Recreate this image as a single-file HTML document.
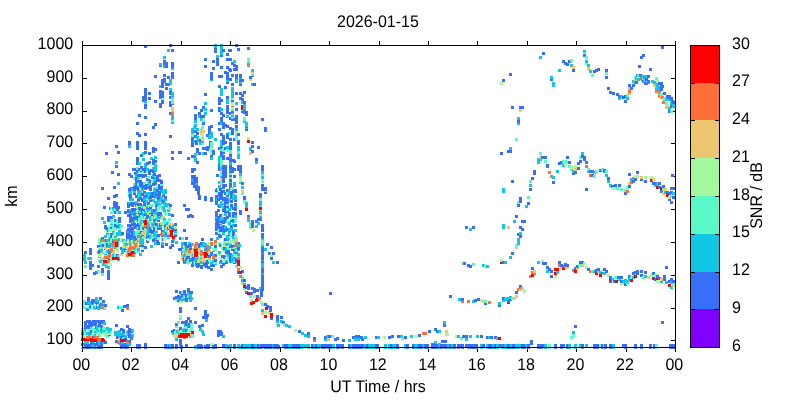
<!DOCTYPE html>
<html><head><meta charset="utf-8"><title>plot</title>
<style>
html,body{margin:0;padding:0;background:#fff;overflow:hidden;}
svg{display:block;will-change:transform;}
.c0{fill:#8000ff}.c1{fill:#376ff9}.c2{fill:#12c7e6}.c3{fill:#5bf9c7}.c4{fill:#a4f99f}.c5{fill:#edc76f}.c6{fill:#ff6f39}.c7{fill:#ff0000}
text{font-family:"Liberation Sans",sans-serif;font-size:16px;fill:#000;}
</style></head>
<body>
<svg width="800" height="400" viewBox="0 0 800 400" shape-rendering="crispEdges">
<rect width="800" height="400" fill="#fff"/>
<rect x="82" y="41" width="1" height="4" fill="#000"/>
<rect x="82" y="348" width="1" height="4" fill="#000"/>
<rect x="131" y="41" width="1" height="4" fill="#000"/>
<rect x="131" y="348" width="1" height="4" fill="#000"/>
<rect x="181" y="41" width="1" height="4" fill="#000"/>
<rect x="181" y="348" width="1" height="4" fill="#000"/>
<rect x="230" y="41" width="1" height="4" fill="#000"/>
<rect x="230" y="348" width="1" height="4" fill="#000"/>
<rect x="280" y="41" width="1" height="4" fill="#000"/>
<rect x="280" y="348" width="1" height="4" fill="#000"/>
<rect x="329" y="41" width="1" height="4" fill="#000"/>
<rect x="329" y="348" width="1" height="4" fill="#000"/>
<rect x="379" y="41" width="1" height="4" fill="#000"/>
<rect x="379" y="348" width="1" height="4" fill="#000"/>
<rect x="428" y="41" width="1" height="4" fill="#000"/>
<rect x="428" y="348" width="1" height="4" fill="#000"/>
<rect x="477" y="41" width="1" height="4" fill="#000"/>
<rect x="477" y="348" width="1" height="4" fill="#000"/>
<rect x="527" y="41" width="1" height="4" fill="#000"/>
<rect x="527" y="348" width="1" height="4" fill="#000"/>
<rect x="576" y="41" width="1" height="4" fill="#000"/>
<rect x="576" y="348" width="1" height="4" fill="#000"/>
<rect x="626" y="41" width="1" height="4" fill="#000"/>
<rect x="626" y="348" width="1" height="4" fill="#000"/>
<rect x="675" y="41" width="1" height="4" fill="#000"/>
<rect x="675" y="348" width="1" height="4" fill="#000"/>
<rect x="83" y="340" width="4" height="1" fill="#000"/>
<rect x="671" y="340" width="4" height="1" fill="#000"/>
<rect x="83" y="308" width="4" height="1" fill="#000"/>
<rect x="671" y="308" width="4" height="1" fill="#000"/>
<rect x="83" y="275" width="4" height="1" fill="#000"/>
<rect x="671" y="275" width="4" height="1" fill="#000"/>
<rect x="83" y="242" width="4" height="1" fill="#000"/>
<rect x="671" y="242" width="4" height="1" fill="#000"/>
<rect x="83" y="209" width="4" height="1" fill="#000"/>
<rect x="671" y="209" width="4" height="1" fill="#000"/>
<rect x="83" y="176" width="4" height="1" fill="#000"/>
<rect x="671" y="176" width="4" height="1" fill="#000"/>
<rect x="83" y="143" width="4" height="1" fill="#000"/>
<rect x="671" y="143" width="4" height="1" fill="#000"/>
<rect x="83" y="111" width="4" height="1" fill="#000"/>
<rect x="671" y="111" width="4" height="1" fill="#000"/>
<rect x="83" y="78" width="4" height="1" fill="#000"/>
<rect x="671" y="78" width="4" height="1" fill="#000"/>
<path class="c1" d="M81 343h3v3h-3z"/>
<path class="c3" d="M81 335h3v3h-3z"/>
<path class="c1" d="M81 332h3v3h-3z"/>
<path class="c2" d="M81 331h3v3h-3z"/>
<path class="c3" d="M81 328h3v3h-3z"/>
<path class="c2" d="M82 344h3v3h-3zM82 344h3v3h-3z"/>
<path class="c5" d="M82 336h3v3h-3z"/>
<path class="c3" d="M83 306h3v3h-3zM83 302h3v3h-3zM83 300h3v3h-3z"/>
<path class="c2" d="M83 258h3v3h-3zM83 256h3v3h-3zM83 254h3v3h-3z"/>
<path class="c1" d="M84 343h3v3h-3z"/>
<path class="c2" d="M84 341h3v3h-3z"/>
<path class="c5" d="M84 336h3v3h-3z"/>
<path class="c4" d="M84 335h3v3h-3z"/>
<path class="c3" d="M84 332h3v3h-3zM84 330h3v3h-3z"/>
<path class="c2" d="M84 328h3v3h-3z"/>
<path class="c1" d="M84 326h3v3h-3zM84 325h3v3h-3zM84 324h3v3h-3zM84 321h3v3h-3z"/>
<path class="c3" d="M84 265h3v3h-3z"/>
<path class="c2" d="M84 261h3v3h-3z"/>
<path class="c1" d="M84 251h3v3h-3zM85 344h3v3h-3zM85 302h3v3h-3zM86 344h3v3h-3z"/>
<path class="c2" d="M86 341h3v3h-3zM86 332h3v3h-3z"/>
<path class="c4" d="M86 329h3v3h-3z"/>
<path class="c1" d="M86 326h3v3h-3zM86 325h3v3h-3zM86 320h3v3h-3zM86 308h3v3h-3zM87 344h3v3h-3z"/>
<path class="c3" d="M87 306h3v3h-3z"/>
<path class="c1" d="M87 302h3v3h-3z"/>
<path class="c2" d="M87 301h3v3h-3z"/>
<path class="c1" d="M87 299h3v3h-3zM87 297h3v3h-3z"/>
<path class="c2" d="M87 257h3v3h-3z"/>
<path class="c1" d="M88 344h3v3h-3z"/>
<path class="c2" d="M88 334h3v3h-3zM88 332h3v3h-3zM88 331h3v3h-3z"/>
<path class="c3" d="M88 329h3v3h-3zM88 327h3v3h-3z"/>
<path class="c1" d="M88 326h3v3h-3zM88 324h3v3h-3zM88 323h3v3h-3zM88 320h3v3h-3z"/>
<path class="c2" d="M89 306h3v3h-3z"/>
<path class="c1" d="M89 305h3v3h-3z"/>
<path class="c2" d="M89 303h3v3h-3zM89 301h3v3h-3z"/>
<path class="c1" d="M89 267h3v3h-3zM89 264h3v3h-3zM89 261h3v3h-3z"/>
<path class="c2" d="M89 257h3v3h-3z"/>
<path class="c1" d="M89 252h3v3h-3zM89 250h3v3h-3zM89 248h3v3h-3zM90 343h3v3h-3zM90 341h3v3h-3z"/>
<path class="c5" d="M90 336h3v3h-3z"/>
<path class="c3" d="M90 334h3v3h-3z"/>
<path class="c2" d="M90 332h3v3h-3z"/>
<path class="c1" d="M90 330h3v3h-3z"/>
<path class="c3" d="M90 327h3v3h-3z"/>
<path class="c1" d="M90 324h3v3h-3zM90 321h3v3h-3z"/>
<path class="c2" d="M91 344h3v3h-3z"/>
<path class="c4" d="M91 307h3v3h-3zM91 304h3v3h-3z"/>
<path class="c2" d="M91 302h3v3h-3z"/>
<path class="c1" d="M91 301h3v3h-3zM91 300h3v3h-3zM91 299h3v3h-3zM91 264h3v3h-3z"/>
<path class="c2" d="M92 344h3v3h-3z"/>
<path class="c1" d="M92 342h3v3h-3z"/>
<path class="c2" d="M92 340h3v3h-3z"/>
<path class="c5" d="M92 336h3v3h-3z"/>
<path class="c1" d="M92 335h3v3h-3z"/>
<path class="c3" d="M92 333h3v3h-3z"/>
<path class="c4" d="M92 332h3v3h-3z"/>
<path class="c5" d="M92 329h3v3h-3z"/>
<path class="c3" d="M92 328h3v3h-3z"/>
<path class="c1" d="M92 323h3v3h-3zM92 320h3v3h-3z"/>
<path class="c2" d="M93 344h3v3h-3z"/>
<path class="c1" d="M93 320h3v3h-3z"/>
<path class="c5" d="M93 307h3v3h-3z"/>
<path class="c2" d="M93 306h3v3h-3z"/>
<path class="c1" d="M93 300h3v3h-3zM93 299h3v3h-3zM93 272h3v3h-3zM94 343h3v3h-3z"/>
<path class="c2" d="M94 334h3v3h-3z"/>
<path class="c3" d="M94 331h3v3h-3z"/>
<path class="c2" d="M94 330h3v3h-3z"/>
<path class="c3" d="M94 328h3v3h-3z"/>
<path class="c1" d="M94 322h3v3h-3zM95 326h3v3h-3zM95 325h3v3h-3z"/>
<path class="c3" d="M95 305h3v3h-3z"/>
<path class="c1" d="M95 301h3v3h-3zM95 301h3v3h-3z"/>
<path class="c2" d="M95 299h3v3h-3zM95 297h3v3h-3z"/>
<path class="c1" d="M95 271h3v3h-3zM96 342h3v3h-3zM96 341h3v3h-3z"/>
<path class="c5" d="M96 334h3v3h-3z"/>
<path class="c4" d="M96 333h3v3h-3z"/>
<path class="c5" d="M96 329h3v3h-3z"/>
<path class="c2" d="M96 328h3v3h-3zM96 325h3v3h-3zM96 320h3v3h-3z"/>
<path class="c1" d="M96 320h3v3h-3zM96 306h3v3h-3zM96 302h3v3h-3zM97 344h3v3h-3z"/>
<path class="c2" d="M97 307h3v3h-3zM97 304h3v3h-3z"/>
<path class="c4" d="M97 303h3v3h-3z"/>
<path class="c1" d="M97 301h3v3h-3z"/>
<path class="c2" d="M97 300h3v3h-3z"/>
<path class="c3" d="M97 270h3v3h-3z"/>
<path class="c1" d="M97 265h3v3h-3z"/>
<path class="c2" d="M97 251h3v3h-3z"/>
<path class="c1" d="M97 245h3v3h-3zM98 343h3v3h-3z"/>
<path class="c2" d="M98 342h3v3h-3z"/>
<path class="c3" d="M98 334h3v3h-3zM98 330h3v3h-3z"/>
<path class="c2" d="M98 329h3v3h-3z"/>
<path class="c3" d="M98 328h3v3h-3z"/>
<path class="c1" d="M98 324h3v3h-3zM98 323h3v3h-3z"/>
<path class="c4" d="M98 259h3v3h-3z"/>
<path class="c2" d="M98 255h3v3h-3z"/>
<path class="c4" d="M98 254h3v3h-3z"/>
<path class="c2" d="M98 251h3v3h-3z"/>
<path class="c1" d="M98 250h3v3h-3z"/>
<path class="c5" d="M98 247h3v3h-3z"/>
<path class="c3" d="M98 241h3v3h-3zM98 240h3v3h-3z"/>
<path class="c4" d="M98 238h3v3h-3z"/>
<path class="c1" d="M99 320h3v3h-3zM99 304h3v3h-3z"/>
<path class="c4" d="M99 301h3v3h-3z"/>
<path class="c1" d="M99 297h3v3h-3z"/>
<path class="c2" d="M99 260h3v3h-3z"/>
<path class="c1" d="M100 344h3v3h-3zM100 341h3v3h-3z"/>
<path class="c2" d="M100 329h3v3h-3z"/>
<path class="c1" d="M100 325h3v3h-3zM100 321h3v3h-3z"/>
<path class="c2" d="M100 306h3v3h-3z"/>
<path class="c1" d="M100 303h3v3h-3z"/>
<path class="c2" d="M100 258h3v3h-3z"/>
<path class="c5" d="M100 257h3v3h-3z"/>
<path class="c4" d="M100 252h3v3h-3z"/>
<path class="c6" d="M100 250h3v3h-3z"/>
<path class="c2" d="M100 249h3v3h-3z"/>
<path class="c3" d="M100 246h3v3h-3z"/>
<path class="c2" d="M100 244h3v3h-3z"/>
<path class="c3" d="M100 241h3v3h-3z"/>
<path class="c4" d="M100 239h3v3h-3z"/>
<path class="c2" d="M100 239h3v3h-3zM101 331h3v3h-3z"/>
<path class="c1" d="M101 327h3v3h-3zM101 321h3v3h-3zM101 306h3v3h-3z"/>
<path class="c2" d="M101 304h3v3h-3z"/>
<path class="c3" d="M101 273h3v3h-3z"/>
<path class="c1" d="M101 270h3v3h-3zM101 268h3v3h-3zM101 237h3v3h-3z"/>
<path class="c2" d="M101 217h3v3h-3z"/>
<path class="c1" d="M101 187h3v3h-3z"/>
<path class="c2" d="M102 341h3v3h-3z"/>
<path class="c3" d="M102 331h3v3h-3z"/>
<path class="c2" d="M102 329h3v3h-3z"/>
<path class="c1" d="M102 327h3v3h-3z"/>
<path class="c3" d="M102 327h3v3h-3z"/>
<path class="c1" d="M102 320h3v3h-3z"/>
<path class="c2" d="M102 305h3v3h-3z"/>
<path class="c1" d="M102 303h3v3h-3z"/>
<path class="c3" d="M102 301h3v3h-3z"/>
<path class="c1" d="M102 300h3v3h-3z"/>
<path class="c2" d="M102 263h3v3h-3zM102 263h3v3h-3z"/>
<path class="c3" d="M102 257h3v3h-3zM102 251h3v3h-3zM102 245h3v3h-3z"/>
<path class="c1" d="M102 244h3v3h-3z"/>
<path class="c4" d="M102 240h3v3h-3z"/>
<path class="c6" d="M102 239h3v3h-3z"/>
<path class="c1" d="M103 322h3v3h-3z"/>
<path class="c2" d="M103 322h3v3h-3z"/>
<path class="c3" d="M103 307h3v3h-3z"/>
<path class="c2" d="M103 304h3v3h-3zM103 221h3v3h-3z"/>
<path class="c1" d="M103 206h3v3h-3zM104 341h3v3h-3z"/>
<path class="c4" d="M104 334h3v3h-3z"/>
<path class="c2" d="M104 329h3v3h-3z"/>
<path class="c3" d="M104 327h3v3h-3z"/>
<path class="c1" d="M104 304h3v3h-3z"/>
<path class="c5" d="M104 254h3v3h-3z"/>
<path class="c2" d="M104 252h3v3h-3z"/>
<path class="c4" d="M104 251h3v3h-3z"/>
<path class="c1" d="M104 247h3v3h-3z"/>
<path class="c5" d="M104 246h3v3h-3z"/>
<path class="c3" d="M104 243h3v3h-3zM104 242h3v3h-3z"/>
<path class="c2" d="M104 235h3v3h-3z"/>
<path class="c1" d="M104 226h3v3h-3zM104 225h3v3h-3z"/>
<path class="c5" d="M105 331h3v3h-3z"/>
<path class="c2" d="M105 265h3v3h-3z"/>
<path class="c3" d="M105 262h3v3h-3z"/>
<path class="c1" d="M105 256h3v3h-3z"/>
<path class="c4" d="M105 249h3v3h-3z"/>
<path class="c1" d="M105 239h3v3h-3zM105 227h3v3h-3zM105 152h3v3h-3z"/>
<path class="c3" d="M106 335h3v3h-3z"/>
<path class="c4" d="M106 331h3v3h-3z"/>
<path class="c3" d="M106 331h3v3h-3zM106 329h3v3h-3z"/>
<path class="c2" d="M106 327h3v3h-3zM106 250h3v3h-3z"/>
<path class="c3" d="M106 245h3v3h-3z"/>
<path class="c2" d="M106 245h3v3h-3z"/>
<path class="c1" d="M106 243h3v3h-3z"/>
<path class="c2" d="M106 239h3v3h-3zM106 232h3v3h-3z"/>
<path class="c4" d="M106 230h3v3h-3z"/>
<path class="c1" d="M107 277h3v3h-3zM107 275h3v3h-3zM107 273h3v3h-3zM107 270h3v3h-3z"/>
<path class="c2" d="M107 266h3v3h-3zM107 255h3v3h-3z"/>
<path class="c1" d="M107 229h3v3h-3zM107 219h3v3h-3zM107 218h3v3h-3zM107 216h3v3h-3zM107 197h3v3h-3zM108 333h3v3h-3z"/>
<path class="c4" d="M108 332h3v3h-3z"/>
<path class="c2" d="M108 330h3v3h-3z"/>
<path class="c4" d="M108 258h3v3h-3z"/>
<path class="c1" d="M108 257h3v3h-3z"/>
<path class="c6" d="M108 256h3v3h-3z"/>
<path class="c5" d="M108 252h3v3h-3z"/>
<path class="c1" d="M108 251h3v3h-3zM108 249h3v3h-3z"/>
<path class="c4" d="M108 242h3v3h-3z"/>
<path class="c3" d="M108 236h3v3h-3zM108 229h3v3h-3zM108 227h3v3h-3z"/>
<path class="c4" d="M108 225h3v3h-3z"/>
<path class="c3" d="M109 329h3v3h-3z"/>
<path class="c2" d="M109 328h3v3h-3z"/>
<path class="c4" d="M109 263h3v3h-3z"/>
<path class="c3" d="M109 254h3v3h-3z"/>
<path class="c2" d="M109 249h3v3h-3zM109 245h3v3h-3zM109 242h3v3h-3z"/>
<path class="c1" d="M109 238h3v3h-3zM109 207h3v3h-3z"/>
<path class="c3" d="M110 258h3v3h-3zM110 256h3v3h-3z"/>
<path class="c2" d="M110 250h3v3h-3z"/>
<path class="c5" d="M110 246h3v3h-3z"/>
<path class="c2" d="M110 245h3v3h-3zM110 242h3v3h-3z"/>
<path class="c3" d="M110 240h3v3h-3z"/>
<path class="c4" d="M110 238h3v3h-3z"/>
<path class="c3" d="M110 236h3v3h-3z"/>
<path class="c1" d="M110 235h3v3h-3zM110 233h3v3h-3zM110 226h3v3h-3z"/>
<path class="c3" d="M110 224h3v3h-3z"/>
<path class="c2" d="M110 222h3v3h-3z"/>
<path class="c3" d="M110 221h3v3h-3zM110 218h3v3h-3z"/>
<path class="c1" d="M110 216h3v3h-3z"/>
<path class="c3" d="M110 211h3v3h-3zM110 207h3v3h-3zM111 255h3v3h-3z"/>
<path class="c4" d="M111 247h3v3h-3z"/>
<path class="c1" d="M111 171h3v3h-3z"/>
<path class="c2" d="M112 254h3v3h-3z"/>
<path class="c3" d="M112 251h3v3h-3z"/>
<path class="c5" d="M112 250h3v3h-3z"/>
<path class="c2" d="M112 245h3v3h-3z"/>
<path class="c6" d="M112 242h3v3h-3z"/>
<path class="c1" d="M112 240h3v3h-3z"/>
<path class="c2" d="M112 238h3v3h-3z"/>
<path class="c3" d="M112 236h3v3h-3z"/>
<path class="c4" d="M112 235h3v3h-3z"/>
<path class="c2" d="M112 231h3v3h-3z"/>
<path class="c4" d="M112 228h3v3h-3z"/>
<path class="c3" d="M112 226h3v3h-3z"/>
<path class="c2" d="M112 215h3v3h-3z"/>
<path class="c3" d="M112 209h3v3h-3z"/>
<path class="c2" d="M112 207h3v3h-3z"/>
<path class="c4" d="M113 247h3v3h-3z"/>
<path class="c1" d="M113 205h3v3h-3zM113 203h3v3h-3zM113 201h3v3h-3zM113 195h3v3h-3zM113 186h3v3h-3z"/>
<path class="c2" d="M114 333h3v3h-3z"/>
<path class="c1" d="M114 331h3v3h-3z"/>
<path class="c2" d="M114 331h3v3h-3z"/>
<path class="c5" d="M114 257h3v3h-3z"/>
<path class="c3" d="M114 254h3v3h-3zM114 246h3v3h-3z"/>
<path class="c2" d="M114 246h3v3h-3z"/>
<path class="c1" d="M114 243h3v3h-3z"/>
<path class="c2" d="M114 241h3v3h-3zM114 238h3v3h-3z"/>
<path class="c4" d="M114 236h3v3h-3z"/>
<path class="c2" d="M114 235h3v3h-3z"/>
<path class="c3" d="M114 233h3v3h-3z"/>
<path class="c4" d="M114 232h3v3h-3z"/>
<path class="c3" d="M114 227h3v3h-3z"/>
<path class="c1" d="M114 224h3v3h-3zM114 222h3v3h-3z"/>
<path class="c3" d="M114 221h3v3h-3zM114 220h3v3h-3z"/>
<path class="c1" d="M114 219h3v3h-3zM114 211h3v3h-3z"/>
<path class="c3" d="M114 208h3v3h-3z"/>
<path class="c1" d="M115 340h3v3h-3zM115 324h3v3h-3z"/>
<path class="c4" d="M115 240h3v3h-3z"/>
<path class="c1" d="M115 206h3v3h-3zM115 204h3v3h-3zM115 202h3v3h-3zM115 194h3v3h-3zM115 165h3v3h-3z"/>
<path class="c2" d="M115 161h3v3h-3z"/>
<path class="c1" d="M115 145h3v3h-3zM116 336h3v3h-3zM116 335h3v3h-3z"/>
<path class="c2" d="M116 333h3v3h-3z"/>
<path class="c3" d="M116 331h3v3h-3z"/>
<path class="c2" d="M116 331h3v3h-3z"/>
<path class="c5" d="M116 257h3v3h-3z"/>
<path class="c1" d="M116 254h3v3h-3z"/>
<path class="c4" d="M116 249h3v3h-3zM116 246h3v3h-3z"/>
<path class="c1" d="M116 244h3v3h-3z"/>
<path class="c4" d="M116 243h3v3h-3z"/>
<path class="c2" d="M116 242h3v3h-3zM116 239h3v3h-3zM116 233h3v3h-3zM116 232h3v3h-3z"/>
<path class="c1" d="M116 225h3v3h-3z"/>
<path class="c3" d="M116 222h3v3h-3zM116 219h3v3h-3zM116 211h3v3h-3z"/>
<path class="c1" d="M116 208h3v3h-3z"/>
<path class="c2" d="M117 306h3v3h-3zM117 258h3v3h-3z"/>
<path class="c3" d="M117 255h3v3h-3z"/>
<path class="c1" d="M117 206h3v3h-3z"/>
<path class="c2" d="M117 182h3v3h-3z"/>
<path class="c1" d="M117 173h3v3h-3zM117 151h3v3h-3z"/>
<path class="c2" d="M118 338h3v3h-3z"/>
<path class="c5" d="M118 338h3v3h-3z"/>
<path class="c2" d="M118 335h3v3h-3zM118 335h3v3h-3zM118 332h3v3h-3zM118 330h3v3h-3zM118 238h3v3h-3zM118 233h3v3h-3zM118 230h3v3h-3z"/>
<path class="c3" d="M118 227h3v3h-3z"/>
<path class="c1" d="M118 225h3v3h-3z"/>
<path class="c2" d="M118 224h3v3h-3z"/>
<path class="c1" d="M118 220h3v3h-3zM118 218h3v3h-3zM118 217h3v3h-3z"/>
<path class="c2" d="M118 211h3v3h-3z"/>
<path class="c1" d="M119 342h3v3h-3z"/>
<path class="c3" d="M119 306h3v3h-3z"/>
<path class="c1" d="M120 344h3v3h-3zM120 337h3v3h-3zM120 336h3v3h-3zM120 334h3v3h-3z"/>
<path class="c2" d="M120 333h3v3h-3z"/>
<path class="c1" d="M120 328h3v3h-3z"/>
<path class="c5" d="M120 253h3v3h-3z"/>
<path class="c1" d="M120 247h3v3h-3z"/>
<path class="c5" d="M120 239h3v3h-3z"/>
<path class="c4" d="M120 238h3v3h-3z"/>
<path class="c2" d="M120 233h3v3h-3z"/>
<path class="c3" d="M120 225h3v3h-3z"/>
<path class="c2" d="M121 342h3v3h-3z"/>
<path class="c1" d="M121 309h3v3h-3z"/>
<path class="c3" d="M121 306h3v3h-3z"/>
<path class="c2" d="M121 251h3v3h-3zM121 250h3v3h-3zM121 249h3v3h-3z"/>
<path class="c4" d="M121 239h3v3h-3z"/>
<path class="c1" d="M121 232h3v3h-3zM122 344h3v3h-3z"/>
<path class="c3" d="M122 337h3v3h-3zM122 335h3v3h-3z"/>
<path class="c1" d="M122 334h3v3h-3z"/>
<path class="c2" d="M122 333h3v3h-3z"/>
<path class="c1" d="M122 330h3v3h-3zM122 329h3v3h-3z"/>
<path class="c2" d="M122 248h3v3h-3zM122 245h3v3h-3z"/>
<path class="c4" d="M122 245h3v3h-3z"/>
<path class="c5" d="M122 240h3v3h-3z"/>
<path class="c2" d="M122 239h3v3h-3z"/>
<path class="c5" d="M123 338h3v3h-3z"/>
<path class="c1" d="M123 305h3v3h-3z"/>
<path class="c2" d="M123 248h3v3h-3z"/>
<path class="c3" d="M123 243h3v3h-3zM123 241h3v3h-3z"/>
<path class="c1" d="M124 344h3v3h-3zM124 343h3v3h-3zM124 337h3v3h-3z"/>
<path class="c2" d="M124 335h3v3h-3z"/>
<path class="c1" d="M124 249h3v3h-3z"/>
<path class="c5" d="M124 245h3v3h-3zM124 244h3v3h-3z"/>
<path class="c2" d="M124 242h3v3h-3z"/>
<path class="c3" d="M124 240h3v3h-3z"/>
<path class="c1" d="M124 211h3v3h-3z"/>
<path class="c3" d="M125 250h3v3h-3z"/>
<path class="c2" d="M125 243h3v3h-3z"/>
<path class="c1" d="M126 344h3v3h-3z"/>
<path class="c2" d="M126 342h3v3h-3z"/>
<path class="c1" d="M126 340h3v3h-3z"/>
<path class="c2" d="M126 331h3v3h-3z"/>
<path class="c1" d="M126 325h3v3h-3zM126 304h3v3h-3zM126 238h3v3h-3zM126 236h3v3h-3zM126 234h3v3h-3zM126 232h3v3h-3zM126 230h3v3h-3z"/>
<path class="c2" d="M127 333h3v3h-3zM127 330h3v3h-3z"/>
<path class="c1" d="M127 253h3v3h-3z"/>
<path class="c2" d="M127 251h3v3h-3z"/>
<path class="c3" d="M127 247h3v3h-3z"/>
<path class="c4" d="M127 239h3v3h-3z"/>
<path class="c1" d="M127 235h3v3h-3zM127 233h3v3h-3z"/>
<path class="c2" d="M127 230h3v3h-3z"/>
<path class="c1" d="M127 228h3v3h-3zM127 224h3v3h-3zM127 214h3v3h-3zM127 210h3v3h-3zM127 209h3v3h-3zM127 205h3v3h-3zM127 204h3v3h-3zM127 202h3v3h-3z"/>
<path class="c2" d="M128 343h3v3h-3z"/>
<path class="c1" d="M128 340h3v3h-3zM128 335h3v3h-3zM128 332h3v3h-3zM128 331h3v3h-3zM128 329h3v3h-3zM128 328h3v3h-3z"/>
<path class="c5" d="M128 242h3v3h-3z"/>
<path class="c1" d="M128 203h3v3h-3z"/>
<path class="c2" d="M128 202h3v3h-3zM128 194h3v3h-3zM128 190h3v3h-3z"/>
<path class="c1" d="M128 188h3v3h-3zM128 173h3v3h-3z"/>
<path class="c2" d="M128 145h3v3h-3z"/>
<path class="c1" d="M128 142h3v3h-3zM128 141h3v3h-3zM129 329h3v3h-3z"/>
<path class="c3" d="M129 254h3v3h-3z"/>
<path class="c1" d="M129 252h3v3h-3z"/>
<path class="c4" d="M129 252h3v3h-3z"/>
<path class="c1" d="M129 248h3v3h-3z"/>
<path class="c2" d="M129 248h3v3h-3zM129 246h3v3h-3zM129 244h3v3h-3zM129 242h3v3h-3z"/>
<path class="c3" d="M129 240h3v3h-3z"/>
<path class="c2" d="M129 239h3v3h-3z"/>
<path class="c1" d="M129 237h3v3h-3zM129 236h3v3h-3zM129 234h3v3h-3zM129 234h3v3h-3zM129 230h3v3h-3zM129 228h3v3h-3zM129 226h3v3h-3zM129 224h3v3h-3zM129 220h3v3h-3zM129 219h3v3h-3zM129 217h3v3h-3zM129 217h3v3h-3zM129 215h3v3h-3zM129 213h3v3h-3zM129 212h3v3h-3z"/>
<path class="c2" d="M129 209h3v3h-3z"/>
<path class="c1" d="M129 203h3v3h-3z"/>
<path class="c2" d="M129 198h3v3h-3z"/>
<path class="c1" d="M129 196h3v3h-3zM129 193h3v3h-3z"/>
<path class="c2" d="M129 191h3v3h-3z"/>
<path class="c1" d="M130 337h3v3h-3zM130 335h3v3h-3z"/>
<path class="c3" d="M130 331h3v3h-3z"/>
<path class="c1" d="M130 330h3v3h-3zM130 187h3v3h-3zM130 175h3v3h-3z"/>
<path class="c2" d="M131 334h3v3h-3zM131 329h3v3h-3z"/>
<path class="c1" d="M131 254h3v3h-3zM131 251h3v3h-3z"/>
<path class="c3" d="M131 250h3v3h-3z"/>
<path class="c4" d="M131 244h3v3h-3zM131 240h3v3h-3z"/>
<path class="c1" d="M131 237h3v3h-3z"/>
<path class="c2" d="M131 236h3v3h-3z"/>
<path class="c1" d="M131 235h3v3h-3zM131 232h3v3h-3zM131 230h3v3h-3zM131 227h3v3h-3z"/>
<path class="c2" d="M131 223h3v3h-3z"/>
<path class="c1" d="M131 223h3v3h-3zM131 219h3v3h-3zM131 217h3v3h-3z"/>
<path class="c2" d="M131 212h3v3h-3z"/>
<path class="c1" d="M131 209h3v3h-3zM131 208h3v3h-3zM131 204h3v3h-3zM131 202h3v3h-3z"/>
<path class="c2" d="M131 198h3v3h-3zM131 188h3v3h-3z"/>
<path class="c5" d="M132 248h3v3h-3zM132 240h3v3h-3z"/>
<path class="c1" d="M132 168h3v3h-3zM133 251h3v3h-3z"/>
<path class="c2" d="M133 249h3v3h-3z"/>
<path class="c3" d="M133 248h3v3h-3z"/>
<path class="c2" d="M133 247h3v3h-3zM133 241h3v3h-3zM133 238h3v3h-3z"/>
<path class="c1" d="M133 236h3v3h-3zM133 234h3v3h-3z"/>
<path class="c2" d="M133 233h3v3h-3zM133 231h3v3h-3z"/>
<path class="c1" d="M133 224h3v3h-3zM133 223h3v3h-3zM133 221h3v3h-3zM133 216h3v3h-3zM133 215h3v3h-3zM133 213h3v3h-3zM133 209h3v3h-3zM133 202h3v3h-3zM133 192h3v3h-3z"/>
<path class="c2" d="M133 190h3v3h-3z"/>
<path class="c1" d="M133 188h3v3h-3zM133 188h3v3h-3zM133 185h3v3h-3z"/>
<path class="c3" d="M133 183h3v3h-3zM133 177h3v3h-3z"/>
<path class="c1" d="M134 236h3v3h-3z"/>
<path class="c2" d="M134 233h3v3h-3z"/>
<path class="c1" d="M134 226h3v3h-3zM134 224h3v3h-3z"/>
<path class="c2" d="M134 220h3v3h-3z"/>
<path class="c1" d="M134 217h3v3h-3z"/>
<path class="c2" d="M134 214h3v3h-3zM134 212h3v3h-3z"/>
<path class="c1" d="M134 212h3v3h-3z"/>
<path class="c2" d="M134 210h3v3h-3z"/>
<path class="c1" d="M134 208h3v3h-3zM134 172h3v3h-3zM134 168h3v3h-3zM134 168h3v3h-3z"/>
<path class="c3" d="M135 250h3v3h-3zM135 249h3v3h-3z"/>
<path class="c1" d="M135 242h3v3h-3z"/>
<path class="c2" d="M135 241h3v3h-3z"/>
<path class="c4" d="M135 240h3v3h-3z"/>
<path class="c1" d="M135 238h3v3h-3z"/>
<path class="c3" d="M135 233h3v3h-3zM135 231h3v3h-3z"/>
<path class="c4" d="M135 220h3v3h-3z"/>
<path class="c1" d="M135 216h3v3h-3zM135 204h3v3h-3zM135 202h3v3h-3z"/>
<path class="c2" d="M135 201h3v3h-3z"/>
<path class="c1" d="M135 195h3v3h-3zM135 187h3v3h-3zM135 185h3v3h-3zM135 184h3v3h-3zM135 182h3v3h-3zM135 179h3v3h-3zM135 178h3v3h-3zM135 176h3v3h-3z"/>
<path class="c2" d="M135 174h3v3h-3z"/>
<path class="c1" d="M136 344h3v3h-3z"/>
<path class="c5" d="M136 246h3v3h-3zM136 240h3v3h-3z"/>
<path class="c3" d="M136 235h3v3h-3z"/>
<path class="c2" d="M136 227h3v3h-3z"/>
<path class="c4" d="M136 212h3v3h-3z"/>
<path class="c2" d="M136 211h3v3h-3z"/>
<path class="c4" d="M136 210h3v3h-3z"/>
<path class="c3" d="M136 206h3v3h-3z"/>
<path class="c4" d="M136 205h3v3h-3z"/>
<path class="c1" d="M136 170h3v3h-3z"/>
<path class="c3" d="M136 167h3v3h-3z"/>
<path class="c1" d="M136 162h3v3h-3zM136 160h3v3h-3zM136 157h3v3h-3zM136 147h3v3h-3zM136 145h3v3h-3zM136 143h3v3h-3zM136 141h3v3h-3zM136 132h3v3h-3zM136 122h3v3h-3z"/>
<path class="c3" d="M137 250h3v3h-3z"/>
<path class="c2" d="M137 248h3v3h-3zM137 247h3v3h-3z"/>
<path class="c3" d="M137 245h3v3h-3z"/>
<path class="c4" d="M137 244h3v3h-3zM137 240h3v3h-3z"/>
<path class="c2" d="M137 239h3v3h-3z"/>
<path class="c3" d="M137 237h3v3h-3z"/>
<path class="c4" d="M137 226h3v3h-3z"/>
<path class="c1" d="M137 224h3v3h-3zM137 223h3v3h-3zM137 219h3v3h-3zM137 203h3v3h-3z"/>
<path class="c2" d="M137 199h3v3h-3z"/>
<path class="c1" d="M137 198h3v3h-3z"/>
<path class="c2" d="M137 196h3v3h-3zM137 192h3v3h-3zM137 191h3v3h-3z"/>
<path class="c1" d="M137 188h3v3h-3zM137 185h3v3h-3z"/>
<path class="c2" d="M137 184h3v3h-3z"/>
<path class="c3" d="M137 183h3v3h-3z"/>
<path class="c2" d="M137 180h3v3h-3z"/>
<path class="c1" d="M137 179h3v3h-3z"/>
<path class="c3" d="M137 177h3v3h-3z"/>
<path class="c2" d="M137 176h3v3h-3z"/>
<path class="c1" d="M137 174h3v3h-3zM138 344h3v3h-3z"/>
<path class="c5" d="M138 238h3v3h-3z"/>
<path class="c1" d="M138 235h3v3h-3z"/>
<path class="c3" d="M138 233h3v3h-3z"/>
<path class="c1" d="M138 231h3v3h-3z"/>
<path class="c3" d="M138 230h3v3h-3z"/>
<path class="c1" d="M138 227h3v3h-3z"/>
<path class="c2" d="M138 225h3v3h-3z"/>
<path class="c1" d="M138 224h3v3h-3z"/>
<path class="c4" d="M138 219h3v3h-3z"/>
<path class="c3" d="M138 218h3v3h-3z"/>
<path class="c2" d="M138 215h3v3h-3z"/>
<path class="c1" d="M138 211h3v3h-3zM138 207h3v3h-3z"/>
<path class="c3" d="M138 170h3v3h-3z"/>
<path class="c1" d="M138 168h3v3h-3z"/>
<path class="c2" d="M138 162h3v3h-3z"/>
<path class="c1" d="M138 134h3v3h-3zM138 114h3v3h-3z"/>
<path class="c2" d="M139 253h3v3h-3z"/>
<path class="c1" d="M139 244h3v3h-3z"/>
<path class="c5" d="M139 242h3v3h-3z"/>
<path class="c2" d="M139 241h3v3h-3z"/>
<path class="c3" d="M139 222h3v3h-3z"/>
<path class="c1" d="M139 214h3v3h-3z"/>
<path class="c4" d="M139 210h3v3h-3z"/>
<path class="c1" d="M139 208h3v3h-3z"/>
<path class="c3" d="M139 204h3v3h-3z"/>
<path class="c1" d="M139 203h3v3h-3zM139 197h3v3h-3zM139 195h3v3h-3z"/>
<path class="c2" d="M139 194h3v3h-3zM139 191h3v3h-3z"/>
<path class="c3" d="M139 187h3v3h-3z"/>
<path class="c1" d="M139 184h3v3h-3zM139 181h3v3h-3zM139 180h3v3h-3z"/>
<path class="c3" d="M139 176h3v3h-3z"/>
<path class="c1" d="M139 174h3v3h-3z"/>
<path class="c2" d="M140 238h3v3h-3zM140 237h3v3h-3z"/>
<path class="c3" d="M140 232h3v3h-3z"/>
<path class="c1" d="M140 231h3v3h-3z"/>
<path class="c3" d="M140 227h3v3h-3zM140 225h3v3h-3z"/>
<path class="c2" d="M140 223h3v3h-3zM140 220h3v3h-3z"/>
<path class="c3" d="M140 216h3v3h-3z"/>
<path class="c4" d="M140 213h3v3h-3z"/>
<path class="c1" d="M140 212h3v3h-3zM140 211h3v3h-3z"/>
<path class="c2" d="M140 210h3v3h-3z"/>
<path class="c1" d="M140 169h3v3h-3z"/>
<path class="c3" d="M140 168h3v3h-3z"/>
<path class="c1" d="M140 166h3v3h-3zM140 154h3v3h-3zM141 249h3v3h-3z"/>
<path class="c4" d="M141 247h3v3h-3z"/>
<path class="c1" d="M141 244h3v3h-3zM141 243h3v3h-3z"/>
<path class="c2" d="M141 242h3v3h-3zM141 239h3v3h-3z"/>
<path class="c1" d="M141 234h3v3h-3z"/>
<path class="c5" d="M141 232h3v3h-3zM141 227h3v3h-3z"/>
<path class="c3" d="M141 224h3v3h-3z"/>
<path class="c1" d="M141 209h3v3h-3zM141 199h3v3h-3zM141 198h3v3h-3zM141 193h3v3h-3z"/>
<path class="c2" d="M141 188h3v3h-3z"/>
<path class="c1" d="M141 185h3v3h-3z"/>
<path class="c3" d="M142 236h3v3h-3z"/>
<path class="c1" d="M142 227h3v3h-3zM142 226h3v3h-3z"/>
<path class="c3" d="M142 224h3v3h-3z"/>
<path class="c4" d="M142 222h3v3h-3z"/>
<path class="c3" d="M142 221h3v3h-3z"/>
<path class="c2" d="M142 213h3v3h-3z"/>
<path class="c3" d="M142 209h3v3h-3z"/>
<path class="c1" d="M142 208h3v3h-3z"/>
<path class="c2" d="M142 205h3v3h-3z"/>
<path class="c1" d="M142 186h3v3h-3zM142 182h3v3h-3zM142 175h3v3h-3zM142 174h3v3h-3z"/>
<path class="c3" d="M142 170h3v3h-3z"/>
<path class="c1" d="M142 168h3v3h-3z"/>
<path class="c2" d="M142 158h3v3h-3zM142 152h3v3h-3z"/>
<path class="c1" d="M142 99h3v3h-3zM142 96h3v3h-3z"/>
<path class="c5" d="M143 230h3v3h-3z"/>
<path class="c1" d="M143 220h3v3h-3z"/>
<path class="c2" d="M143 215h3v3h-3z"/>
<path class="c4" d="M143 206h3v3h-3z"/>
<path class="c1" d="M143 203h3v3h-3zM143 201h3v3h-3z"/>
<path class="c2" d="M143 198h3v3h-3z"/>
<path class="c1" d="M143 195h3v3h-3zM143 191h3v3h-3z"/>
<path class="c2" d="M143 186h3v3h-3z"/>
<path class="c1" d="M143 185h3v3h-3z"/>
<path class="c3" d="M143 182h3v3h-3z"/>
<path class="c1" d="M144 345h3v3h-3zM144 344h3v3h-3zM144 343h3v3h-3zM144 246h3v3h-3z"/>
<path class="c5" d="M144 235h3v3h-3zM144 233h3v3h-3z"/>
<path class="c2" d="M144 231h3v3h-3z"/>
<path class="c5" d="M144 231h3v3h-3z"/>
<path class="c1" d="M144 230h3v3h-3z"/>
<path class="c5" d="M144 230h3v3h-3zM144 228h3v3h-3zM144 226h3v3h-3z"/>
<path class="c1" d="M144 225h3v3h-3z"/>
<path class="c2" d="M144 224h3v3h-3z"/>
<path class="c1" d="M144 220h3v3h-3z"/>
<path class="c3" d="M144 216h3v3h-3z"/>
<path class="c4" d="M144 215h3v3h-3z"/>
<path class="c1" d="M144 213h3v3h-3z"/>
<path class="c2" d="M144 211h3v3h-3z"/>
<path class="c1" d="M144 187h3v3h-3zM144 174h3v3h-3zM144 170h3v3h-3zM144 169h3v3h-3zM144 168h3v3h-3z"/>
<path class="c2" d="M144 165h3v3h-3zM144 163h3v3h-3z"/>
<path class="c1" d="M144 151h3v3h-3zM144 147h3v3h-3zM144 144h3v3h-3zM144 141h3v3h-3zM144 133h3v3h-3zM144 116h3v3h-3zM144 106h3v3h-3zM144 104h3v3h-3z"/>
<path class="c3" d="M144 101h3v3h-3z"/>
<path class="c2" d="M144 100h3v3h-3z"/>
<path class="c1" d="M144 98h3v3h-3zM144 95h3v3h-3zM144 92h3v3h-3zM144 89h3v3h-3zM144 88h3v3h-3zM144 45h3v3h-3z"/>
<path class="c3" d="M145 234h3v3h-3z"/>
<path class="c4" d="M145 221h3v3h-3z"/>
<path class="c1" d="M145 218h3v3h-3zM145 204h3v3h-3z"/>
<path class="c2" d="M145 200h3v3h-3zM145 196h3v3h-3z"/>
<path class="c1" d="M145 194h3v3h-3z"/>
<path class="c2" d="M145 192h3v3h-3z"/>
<path class="c1" d="M145 184h3v3h-3zM146 240h3v3h-3zM146 236h3v3h-3zM146 234h3v3h-3z"/>
<path class="c2" d="M146 233h3v3h-3z"/>
<path class="c3" d="M146 230h3v3h-3z"/>
<path class="c1" d="M146 226h3v3h-3z"/>
<path class="c3" d="M146 220h3v3h-3zM146 219h3v3h-3z"/>
<path class="c1" d="M146 215h3v3h-3z"/>
<path class="c2" d="M146 212h3v3h-3z"/>
<path class="c3" d="M146 210h3v3h-3z"/>
<path class="c1" d="M146 207h3v3h-3zM146 206h3v3h-3z"/>
<path class="c3" d="M146 204h3v3h-3z"/>
<path class="c1" d="M146 186h3v3h-3zM146 178h3v3h-3z"/>
<path class="c4" d="M146 170h3v3h-3z"/>
<path class="c2" d="M146 168h3v3h-3z"/>
<path class="c1" d="M146 162h3v3h-3z"/>
<path class="c4" d="M147 238h3v3h-3z"/>
<path class="c2" d="M147 231h3v3h-3zM147 228h3v3h-3zM147 225h3v3h-3zM147 222h3v3h-3z"/>
<path class="c5" d="M147 212h3v3h-3z"/>
<path class="c2" d="M147 209h3v3h-3z"/>
<path class="c1" d="M147 202h3v3h-3z"/>
<path class="c2" d="M147 196h3v3h-3zM147 192h3v3h-3zM147 180h3v3h-3z"/>
<path class="c4" d="M147 179h3v3h-3z"/>
<path class="c1" d="M147 178h3v3h-3z"/>
<path class="c3" d="M147 176h3v3h-3z"/>
<path class="c5" d="M148 205h3v3h-3z"/>
<path class="c2" d="M148 197h3v3h-3zM148 182h3v3h-3z"/>
<path class="c1" d="M148 172h3v3h-3z"/>
<path class="c3" d="M148 170h3v3h-3z"/>
<path class="c1" d="M148 170h3v3h-3zM148 161h3v3h-3zM148 152h3v3h-3zM148 97h3v3h-3zM148 92h3v3h-3z"/>
<path class="c2" d="M149 236h3v3h-3zM149 235h3v3h-3z"/>
<path class="c1" d="M149 233h3v3h-3z"/>
<path class="c3" d="M149 232h3v3h-3z"/>
<path class="c1" d="M149 230h3v3h-3zM149 227h3v3h-3z"/>
<path class="c3" d="M149 221h3v3h-3z"/>
<path class="c2" d="M149 218h3v3h-3zM149 216h3v3h-3zM149 214h3v3h-3z"/>
<path class="c3" d="M149 213h3v3h-3z"/>
<path class="c1" d="M149 211h3v3h-3z"/>
<path class="c4" d="M149 210h3v3h-3z"/>
<path class="c2" d="M149 208h3v3h-3z"/>
<path class="c1" d="M149 206h3v3h-3zM149 205h3v3h-3z"/>
<path class="c3" d="M149 204h3v3h-3z"/>
<path class="c1" d="M149 199h3v3h-3z"/>
<path class="c2" d="M149 197h3v3h-3z"/>
<path class="c1" d="M149 196h3v3h-3zM149 193h3v3h-3z"/>
<path class="c2" d="M149 192h3v3h-3z"/>
<path class="c1" d="M149 188h3v3h-3zM149 186h3v3h-3zM149 185h3v3h-3zM149 180h3v3h-3z"/>
<path class="c2" d="M150 245h3v3h-3z"/>
<path class="c1" d="M150 169h3v3h-3z"/>
<path class="c2" d="M150 157h3v3h-3z"/>
<path class="c3" d="M151 236h3v3h-3zM151 235h3v3h-3z"/>
<path class="c1" d="M151 231h3v3h-3zM151 230h3v3h-3z"/>
<path class="c4" d="M151 226h3v3h-3z"/>
<path class="c2" d="M151 224h3v3h-3zM151 223h3v3h-3zM151 221h3v3h-3z"/>
<path class="c4" d="M151 220h3v3h-3z"/>
<path class="c3" d="M151 216h3v3h-3zM151 216h3v3h-3z"/>
<path class="c1" d="M151 213h3v3h-3zM151 211h3v3h-3z"/>
<path class="c2" d="M151 209h3v3h-3z"/>
<path class="c3" d="M151 204h3v3h-3z"/>
<path class="c1" d="M151 192h3v3h-3z"/>
<path class="c4" d="M151 180h3v3h-3zM151 179h3v3h-3z"/>
<path class="c1" d="M151 176h3v3h-3zM152 239h3v3h-3z"/>
<path class="c2" d="M152 199h3v3h-3z"/>
<path class="c1" d="M152 195h3v3h-3zM152 183h3v3h-3z"/>
<path class="c2" d="M152 174h3v3h-3z"/>
<path class="c1" d="M152 170h3v3h-3zM152 170h3v3h-3z"/>
<path class="c2" d="M152 167h3v3h-3z"/>
<path class="c1" d="M152 162h3v3h-3zM152 159h3v3h-3zM152 150h3v3h-3zM152 148h3v3h-3zM152 147h3v3h-3zM152 126h3v3h-3zM153 238h3v3h-3zM153 234h3v3h-3z"/>
<path class="c2" d="M153 234h3v3h-3zM153 232h3v3h-3z"/>
<path class="c1" d="M153 229h3v3h-3z"/>
<path class="c2" d="M153 227h3v3h-3z"/>
<path class="c1" d="M153 227h3v3h-3zM153 222h3v3h-3z"/>
<path class="c2" d="M153 221h3v3h-3z"/>
<path class="c1" d="M153 218h3v3h-3z"/>
<path class="c4" d="M153 216h3v3h-3z"/>
<path class="c2" d="M153 214h3v3h-3z"/>
<path class="c3" d="M153 212h3v3h-3z"/>
<path class="c2" d="M153 211h3v3h-3z"/>
<path class="c1" d="M153 209h3v3h-3zM153 195h3v3h-3zM153 191h3v3h-3z"/>
<path class="c2" d="M153 189h3v3h-3z"/>
<path class="c3" d="M153 187h3v3h-3z"/>
<path class="c2" d="M153 180h3v3h-3z"/>
<path class="c1" d="M153 173h3v3h-3z"/>
<path class="c2" d="M154 242h3v3h-3z"/>
<path class="c5" d="M154 214h3v3h-3z"/>
<path class="c2" d="M154 201h3v3h-3zM154 193h3v3h-3zM154 188h3v3h-3z"/>
<path class="c1" d="M154 182h3v3h-3z"/>
<path class="c2" d="M154 177h3v3h-3zM154 169h3v3h-3zM154 166h3v3h-3zM154 164h3v3h-3z"/>
<path class="c1" d="M154 160h3v3h-3z"/>
<path class="c2" d="M154 156h3v3h-3z"/>
<path class="c1" d="M154 148h3v3h-3zM154 123h3v3h-3zM154 100h3v3h-3zM154 75h3v3h-3z"/>
<path class="c2" d="M155 237h3v3h-3zM155 234h3v3h-3zM155 230h3v3h-3z"/>
<path class="c4" d="M155 228h3v3h-3z"/>
<path class="c3" d="M155 226h3v3h-3zM155 225h3v3h-3zM155 224h3v3h-3z"/>
<path class="c1" d="M155 223h3v3h-3z"/>
<path class="c2" d="M155 218h3v3h-3z"/>
<path class="c3" d="M155 215h3v3h-3z"/>
<path class="c2" d="M155 212h3v3h-3z"/>
<path class="c1" d="M155 208h3v3h-3z"/>
<path class="c2" d="M155 207h3v3h-3z"/>
<path class="c1" d="M155 204h3v3h-3z"/>
<path class="c2" d="M155 202h3v3h-3z"/>
<path class="c1" d="M155 196h3v3h-3z"/>
<path class="c2" d="M155 196h3v3h-3z"/>
<path class="c1" d="M155 193h3v3h-3zM156 240h3v3h-3z"/>
<path class="c2" d="M156 201h3v3h-3zM156 191h3v3h-3z"/>
<path class="c1" d="M156 189h3v3h-3zM156 187h3v3h-3z"/>
<path class="c3" d="M156 186h3v3h-3z"/>
<path class="c1" d="M156 179h3v3h-3zM156 177h3v3h-3zM156 175h3v3h-3zM157 242h3v3h-3z"/>
<path class="c4" d="M157 237h3v3h-3z"/>
<path class="c3" d="M157 235h3v3h-3z"/>
<path class="c1" d="M157 234h3v3h-3zM157 227h3v3h-3zM157 227h3v3h-3z"/>
<path class="c2" d="M157 225h3v3h-3z"/>
<path class="c1" d="M157 219h3v3h-3z"/>
<path class="c3" d="M157 217h3v3h-3z"/>
<path class="c2" d="M157 216h3v3h-3z"/>
<path class="c1" d="M157 213h3v3h-3zM157 210h3v3h-3z"/>
<path class="c4" d="M157 209h3v3h-3z"/>
<path class="c3" d="M157 206h3v3h-3z"/>
<path class="c2" d="M157 199h3v3h-3z"/>
<path class="c1" d="M157 197h3v3h-3z"/>
<path class="c2" d="M158 203h3v3h-3z"/>
<path class="c1" d="M158 194h3v3h-3zM158 191h3v3h-3zM158 187h3v3h-3zM158 185h3v3h-3zM158 184h3v3h-3zM158 179h3v3h-3zM158 174h3v3h-3zM159 227h3v3h-3z"/>
<path class="c2" d="M159 225h3v3h-3z"/>
<path class="c1" d="M159 223h3v3h-3zM159 212h3v3h-3z"/>
<path class="c3" d="M159 205h3v3h-3z"/>
<path class="c2" d="M159 199h3v3h-3z"/>
<path class="c1" d="M159 105h3v3h-3zM159 103h3v3h-3zM159 96h3v3h-3zM159 94h3v3h-3zM159 92h3v3h-3zM159 90h3v3h-3z"/>
<path class="c2" d="M159 85h3v3h-3z"/>
<path class="c1" d="M159 64h3v3h-3z"/>
<path class="c2" d="M159 63h3v3h-3z"/>
<path class="c4" d="M160 233h3v3h-3zM160 222h3v3h-3z"/>
<path class="c5" d="M160 222h3v3h-3z"/>
<path class="c3" d="M160 217h3v3h-3z"/>
<path class="c2" d="M160 215h3v3h-3zM160 199h3v3h-3zM160 197h3v3h-3zM160 188h3v3h-3z"/>
<path class="c1" d="M160 187h3v3h-3zM160 185h3v3h-3zM160 184h3v3h-3z"/>
<path class="c3" d="M160 183h3v3h-3z"/>
<path class="c1" d="M160 181h3v3h-3zM160 180h3v3h-3zM161 245h3v3h-3z"/>
<path class="c2" d="M161 242h3v3h-3z"/>
<path class="c5" d="M161 238h3v3h-3z"/>
<path class="c1" d="M161 234h3v3h-3zM161 230h3v3h-3z"/>
<path class="c4" d="M161 217h3v3h-3z"/>
<path class="c3" d="M161 208h3v3h-3z"/>
<path class="c2" d="M161 201h3v3h-3zM161 199h3v3h-3zM161 190h3v3h-3z"/>
<path class="c1" d="M161 101h3v3h-3zM161 100h3v3h-3z"/>
<path class="c3" d="M161 97h3v3h-3z"/>
<path class="c1" d="M161 95h3v3h-3zM161 93h3v3h-3zM161 91h3v3h-3zM161 85h3v3h-3zM161 83h3v3h-3zM161 81h3v3h-3zM161 79h3v3h-3zM162 238h3v3h-3z"/>
<path class="c5" d="M162 232h3v3h-3z"/>
<path class="c3" d="M162 223h3v3h-3zM162 221h3v3h-3z"/>
<path class="c4" d="M162 216h3v3h-3z"/>
<path class="c5" d="M162 216h3v3h-3z"/>
<path class="c2" d="M162 206h3v3h-3z"/>
<path class="c1" d="M162 200h3v3h-3zM162 194h3v3h-3z"/>
<path class="c2" d="M162 192h3v3h-3z"/>
<path class="c4" d="M163 238h3v3h-3z"/>
<path class="c2" d="M163 234h3v3h-3zM163 230h3v3h-3zM163 218h3v3h-3zM163 209h3v3h-3zM163 202h3v3h-3z"/>
<path class="c1" d="M163 80h3v3h-3zM163 78h3v3h-3zM163 74h3v3h-3z"/>
<path class="c2" d="M163 65h3v3h-3z"/>
<path class="c1" d="M163 62h3v3h-3zM163 60h3v3h-3z"/>
<path class="c2" d="M163 56h3v3h-3z"/>
<path class="c1" d="M164 344h3v3h-3z"/>
<path class="c2" d="M164 227h3v3h-3z"/>
<path class="c1" d="M164 225h3v3h-3z"/>
<path class="c3" d="M164 222h3v3h-3zM164 220h3v3h-3zM164 212h3v3h-3z"/>
<path class="c2" d="M164 203h3v3h-3zM164 198h3v3h-3z"/>
<path class="c1" d="M164 196h3v3h-3z"/>
<path class="c2" d="M164 191h3v3h-3zM164 190h3v3h-3zM164 189h3v3h-3z"/>
<path class="c1" d="M165 345h3v3h-3zM165 243h3v3h-3z"/>
<path class="c2" d="M165 234h3v3h-3z"/>
<path class="c1" d="M165 232h3v3h-3z"/>
<path class="c3" d="M165 230h3v3h-3z"/>
<path class="c2" d="M165 230h3v3h-3z"/>
<path class="c5" d="M165 229h3v3h-3z"/>
<path class="c3" d="M165 228h3v3h-3z"/>
<path class="c5" d="M165 226h3v3h-3z"/>
<path class="c1" d="M165 224h3v3h-3z"/>
<path class="c5" d="M165 205h3v3h-3z"/>
<path class="c2" d="M165 204h3v3h-3z"/>
<path class="c1" d="M165 87h3v3h-3zM165 83h3v3h-3zM165 65h3v3h-3zM165 62h3v3h-3z"/>
<path class="c5" d="M166 224h3v3h-3z"/>
<path class="c2" d="M166 222h3v3h-3zM167 344h3v3h-3zM167 236h3v3h-3z"/>
<path class="c5" d="M167 235h3v3h-3z"/>
<path class="c1" d="M167 234h3v3h-3z"/>
<path class="c4" d="M167 232h3v3h-3z"/>
<path class="c1" d="M167 227h3v3h-3z"/>
<path class="c2" d="M167 209h3v3h-3zM167 203h3v3h-3z"/>
<path class="c1" d="M167 83h3v3h-3zM167 76h3v3h-3z"/>
<path class="c2" d="M167 49h3v3h-3z"/>
<path class="c1" d="M168 345h3v3h-3z"/>
<path class="c5" d="M168 226h3v3h-3zM168 225h3v3h-3z"/>
<path class="c4" d="M168 223h3v3h-3z"/>
<path class="c3" d="M168 218h3v3h-3z"/>
<path class="c2" d="M168 213h3v3h-3z"/>
<path class="c3" d="M168 207h3v3h-3z"/>
<path class="c1" d="M169 345h3v3h-3z"/>
<path class="c2" d="M169 344h3v3h-3z"/>
<path class="c1" d="M169 246h3v3h-3z"/>
<path class="c2" d="M169 234h3v3h-3zM169 229h3v3h-3zM169 226h3v3h-3z"/>
<path class="c1" d="M169 225h3v3h-3zM169 204h3v3h-3zM169 135h3v3h-3zM169 112h3v3h-3zM169 104h3v3h-3zM169 103h3v3h-3zM169 101h3v3h-3zM169 96h3v3h-3zM169 92h3v3h-3zM169 90h3v3h-3z"/>
<path class="c2" d="M169 88h3v3h-3zM169 82h3v3h-3zM169 79h3v3h-3z"/>
<path class="c1" d="M169 44h3v3h-3zM170 232h3v3h-3z"/>
<path class="c5" d="M170 229h3v3h-3zM170 223h3v3h-3z"/>
<path class="c1" d="M171 344h3v3h-3zM171 330h3v3h-3zM171 244h3v3h-3zM171 240h3v3h-3z"/>
<path class="c2" d="M171 228h3v3h-3z"/>
<path class="c1" d="M171 226h3v3h-3z"/>
<path class="c5" d="M171 224h3v3h-3z"/>
<path class="c1" d="M171 214h3v3h-3zM171 157h3v3h-3zM171 151h3v3h-3z"/>
<path class="c2" d="M171 121h3v3h-3z"/>
<path class="c3" d="M171 119h3v3h-3z"/>
<path class="c2" d="M171 117h3v3h-3zM171 115h3v3h-3zM171 114h3v3h-3z"/>
<path class="c6" d="M171 112h3v3h-3zM171 111h3v3h-3z"/>
<path class="c5" d="M171 109h3v3h-3zM171 107h3v3h-3z"/>
<path class="c1" d="M171 102h3v3h-3z"/>
<path class="c3" d="M171 101h3v3h-3zM171 99h3v3h-3zM171 98h3v3h-3z"/>
<path class="c2" d="M171 95h3v3h-3zM171 92h3v3h-3z"/>
<path class="c1" d="M171 76h3v3h-3zM171 74h3v3h-3zM171 72h3v3h-3z"/>
<path class="c2" d="M171 67h3v3h-3z"/>
<path class="c1" d="M171 65h3v3h-3zM171 64h3v3h-3zM171 62h3v3h-3zM171 49h3v3h-3z"/>
<path class="c2" d="M172 332h3v3h-3zM172 238h3v3h-3z"/>
<path class="c1" d="M172 229h3v3h-3z"/>
<path class="c2" d="M172 225h3v3h-3z"/>
<path class="c5" d="M173 334h3v3h-3z"/>
<path class="c1" d="M173 329h3v3h-3zM173 297h3v3h-3z"/>
<path class="c4" d="M174 335h3v3h-3z"/>
<path class="c3" d="M174 331h3v3h-3z"/>
<path class="c1" d="M174 234h3v3h-3z"/>
<path class="c2" d="M174 232h3v3h-3z"/>
<path class="c4" d="M174 231h3v3h-3z"/>
<path class="c2" d="M174 230h3v3h-3z"/>
<path class="c1" d="M174 228h3v3h-3z"/>
<path class="c4" d="M174 226h3v3h-3z"/>
<path class="c1" d="M174 223h3v3h-3z"/>
<path class="c2" d="M175 345h3v3h-3z"/>
<path class="c1" d="M175 344h3v3h-3z"/>
<path class="c2" d="M175 338h3v3h-3z"/>
<path class="c5" d="M175 332h3v3h-3z"/>
<path class="c4" d="M175 329h3v3h-3z"/>
<path class="c3" d="M175 325h3v3h-3z"/>
<path class="c1" d="M175 323h3v3h-3z"/>
<path class="c2" d="M175 298h3v3h-3z"/>
<path class="c3" d="M175 298h3v3h-3z"/>
<path class="c1" d="M175 296h3v3h-3zM175 290h3v3h-3z"/>
<path class="c2" d="M175 241h3v3h-3z"/>
<path class="c5" d="M176 335h3v3h-3zM176 333h3v3h-3z"/>
<path class="c2" d="M176 330h3v3h-3z"/>
<path class="c3" d="M177 334h3v3h-3z"/>
<path class="c4" d="M177 333h3v3h-3z"/>
<path class="c3" d="M177 321h3v3h-3z"/>
<path class="c4" d="M177 300h3v3h-3z"/>
<path class="c1" d="M177 299h3v3h-3z"/>
<path class="c2" d="M177 297h3v3h-3z"/>
<path class="c1" d="M177 295h3v3h-3zM177 261h3v3h-3z"/>
<path class="c3" d="M178 334h3v3h-3z"/>
<path class="c2" d="M178 333h3v3h-3z"/>
<path class="c5" d="M178 329h3v3h-3z"/>
<path class="c1" d="M178 248h3v3h-3zM178 151h3v3h-3z"/>
<path class="c2" d="M179 344h3v3h-3z"/>
<path class="c1" d="M179 342h3v3h-3zM179 341h3v3h-3zM179 339h3v3h-3z"/>
<path class="c3" d="M179 335h3v3h-3z"/>
<path class="c1" d="M179 328h3v3h-3zM179 327h3v3h-3zM179 327h3v3h-3z"/>
<path class="c3" d="M179 317h3v3h-3z"/>
<path class="c4" d="M179 315h3v3h-3z"/>
<path class="c1" d="M179 310h3v3h-3zM179 308h3v3h-3zM179 307h3v3h-3z"/>
<path class="c2" d="M179 299h3v3h-3z"/>
<path class="c1" d="M179 297h3v3h-3zM179 296h3v3h-3zM179 291h3v3h-3zM179 248h3v3h-3zM179 237h3v3h-3zM179 151h3v3h-3zM180 345h3v3h-3z"/>
<path class="c2" d="M180 335h3v3h-3z"/>
<path class="c6" d="M180 332h3v3h-3z"/>
<path class="c3" d="M180 331h3v3h-3z"/>
<path class="c4" d="M180 330h3v3h-3zM180 300h3v3h-3z"/>
<path class="c1" d="M180 292h3v3h-3zM181 321h3v3h-3zM181 298h3v3h-3z"/>
<path class="c2" d="M181 297h3v3h-3z"/>
<path class="c3" d="M181 296h3v3h-3z"/>
<path class="c2" d="M181 295h3v3h-3z"/>
<path class="c1" d="M181 294h3v3h-3z"/>
<path class="c2" d="M181 291h3v3h-3z"/>
<path class="c3" d="M181 291h3v3h-3zM181 256h3v3h-3zM181 255h3v3h-3z"/>
<path class="c2" d="M181 253h3v3h-3zM181 251h3v3h-3z"/>
<path class="c1" d="M181 246h3v3h-3z"/>
<path class="c2" d="M181 245h3v3h-3zM181 242h3v3h-3z"/>
<path class="c3" d="M181 237h3v3h-3zM182 331h3v3h-3z"/>
<path class="c2" d="M182 329h3v3h-3z"/>
<path class="c6" d="M182 258h3v3h-3z"/>
<path class="c3" d="M182 253h3v3h-3z"/>
<path class="c6" d="M183 336h3v3h-3z"/>
<path class="c2" d="M183 328h3v3h-3zM183 298h3v3h-3z"/>
<path class="c3" d="M183 295h3v3h-3z"/>
<path class="c1" d="M183 292h3v3h-3zM183 290h3v3h-3z"/>
<path class="c6" d="M183 261h3v3h-3z"/>
<path class="c1" d="M183 260h3v3h-3zM183 257h3v3h-3zM183 256h3v3h-3z"/>
<path class="c2" d="M183 254h3v3h-3z"/>
<path class="c4" d="M183 251h3v3h-3z"/>
<path class="c3" d="M183 249h3v3h-3zM183 247h3v3h-3z"/>
<path class="c5" d="M183 245h3v3h-3z"/>
<path class="c1" d="M183 229h3v3h-3zM183 204h3v3h-3z"/>
<path class="c2" d="M184 324h3v3h-3z"/>
<path class="c1" d="M184 321h3v3h-3z"/>
<path class="c2" d="M184 259h3v3h-3z"/>
<path class="c5" d="M184 257h3v3h-3z"/>
<path class="c6" d="M184 252h3v3h-3z"/>
<path class="c2" d="M184 243h3v3h-3z"/>
<path class="c1" d="M184 242h3v3h-3zM185 344h3v3h-3z"/>
<path class="c2" d="M185 335h3v3h-3z"/>
<path class="c3" d="M185 330h3v3h-3z"/>
<path class="c1" d="M185 329h3v3h-3z"/>
<path class="c3" d="M185 326h3v3h-3z"/>
<path class="c1" d="M185 323h3v3h-3zM185 322h3v3h-3zM185 320h3v3h-3zM185 299h3v3h-3zM185 296h3v3h-3z"/>
<path class="c2" d="M185 295h3v3h-3z"/>
<path class="c1" d="M185 294h3v3h-3zM185 259h3v3h-3zM185 258h3v3h-3z"/>
<path class="c3" d="M185 251h3v3h-3z"/>
<path class="c2" d="M185 249h3v3h-3zM185 248h3v3h-3z"/>
<path class="c1" d="M185 245h3v3h-3zM185 237h3v3h-3zM185 208h3v3h-3z"/>
<path class="c2" d="M186 261h3v3h-3z"/>
<path class="c3" d="M186 261h3v3h-3z"/>
<path class="c1" d="M186 256h3v3h-3z"/>
<path class="c3" d="M186 253h3v3h-3z"/>
<path class="c2" d="M186 246h3v3h-3z"/>
<path class="c5" d="M187 333h3v3h-3z"/>
<path class="c4" d="M187 330h3v3h-3z"/>
<path class="c2" d="M187 325h3v3h-3zM187 323h3v3h-3z"/>
<path class="c1" d="M187 317h3v3h-3zM187 296h3v3h-3z"/>
<path class="c3" d="M187 295h3v3h-3z"/>
<path class="c2" d="M187 292h3v3h-3zM187 291h3v3h-3z"/>
<path class="c1" d="M187 289h3v3h-3zM187 288h3v3h-3z"/>
<path class="c3" d="M187 258h3v3h-3z"/>
<path class="c1" d="M187 256h3v3h-3zM187 255h3v3h-3z"/>
<path class="c3" d="M187 253h3v3h-3zM187 250h3v3h-3z"/>
<path class="c1" d="M187 245h3v3h-3zM187 215h3v3h-3zM187 208h3v3h-3zM187 157h3v3h-3zM188 325h3v3h-3zM188 323h3v3h-3zM188 250h3v3h-3z"/>
<path class="c5" d="M188 248h3v3h-3z"/>
<path class="c2" d="M188 242h3v3h-3z"/>
<path class="c6" d="M189 335h3v3h-3zM189 334h3v3h-3z"/>
<path class="c5" d="M189 333h3v3h-3z"/>
<path class="c3" d="M189 329h3v3h-3z"/>
<path class="c1" d="M189 320h3v3h-3z"/>
<path class="c2" d="M189 299h3v3h-3z"/>
<path class="c1" d="M189 296h3v3h-3zM189 295h3v3h-3z"/>
<path class="c2" d="M189 294h3v3h-3z"/>
<path class="c1" d="M189 291h3v3h-3z"/>
<path class="c4" d="M189 261h3v3h-3z"/>
<path class="c1" d="M189 259h3v3h-3z"/>
<path class="c3" d="M189 252h3v3h-3z"/>
<path class="c2" d="M189 248h3v3h-3z"/>
<path class="c1" d="M189 247h3v3h-3z"/>
<path class="c2" d="M189 245h3v3h-3z"/>
<path class="c1" d="M189 244h3v3h-3zM189 214h3v3h-3z"/>
<path class="c3" d="M190 329h3v3h-3zM190 328h3v3h-3zM190 326h3v3h-3zM190 325h3v3h-3zM190 323h3v3h-3z"/>
<path class="c2" d="M190 297h3v3h-3z"/>
<path class="c1" d="M190 291h3v3h-3zM190 291h3v3h-3z"/>
<path class="c2" d="M190 258h3v3h-3z"/>
<path class="c1" d="M190 254h3v3h-3z"/>
<path class="c5" d="M190 254h3v3h-3z"/>
<path class="c4" d="M190 250h3v3h-3z"/>
<path class="c3" d="M191 335h3v3h-3z"/>
<path class="c2" d="M191 332h3v3h-3z"/>
<path class="c3" d="M191 332h3v3h-3z"/>
<path class="c1" d="M191 264h3v3h-3z"/>
<path class="c4" d="M191 260h3v3h-3z"/>
<path class="c2" d="M191 259h3v3h-3z"/>
<path class="c1" d="M191 258h3v3h-3z"/>
<path class="c3" d="M191 255h3v3h-3zM191 252h3v3h-3z"/>
<path class="c2" d="M191 243h3v3h-3z"/>
<path class="c1" d="M191 215h3v3h-3zM191 182h3v3h-3z"/>
<path class="c2" d="M191 179h3v3h-3z"/>
<path class="c1" d="M191 176h3v3h-3zM191 175h3v3h-3zM191 170h3v3h-3zM191 168h3v3h-3zM191 155h3v3h-3zM191 144h3v3h-3zM191 142h3v3h-3zM191 140h3v3h-3zM191 137h3v3h-3z"/>
<path class="c3" d="M191 134h3v3h-3z"/>
<path class="c2" d="M191 131h3v3h-3zM191 129h3v3h-3zM191 128h3v3h-3z"/>
<path class="c1" d="M192 262h3v3h-3zM192 256h3v3h-3z"/>
<path class="c2" d="M192 254h3v3h-3z"/>
<path class="c4" d="M192 248h3v3h-3z"/>
<path class="c2" d="M193 262h3v3h-3z"/>
<path class="c4" d="M193 254h3v3h-3zM193 250h3v3h-3z"/>
<path class="c6" d="M193 248h3v3h-3z"/>
<path class="c5" d="M193 244h3v3h-3z"/>
<path class="c1" d="M193 185h3v3h-3zM193 183h3v3h-3zM193 180h3v3h-3zM193 177h3v3h-3zM193 175h3v3h-3zM193 168h3v3h-3zM193 155h3v3h-3z"/>
<path class="c2" d="M193 140h3v3h-3zM193 126h3v3h-3zM194 345h3v3h-3z"/>
<path class="c1" d="M194 321h3v3h-3zM194 307h3v3h-3z"/>
<path class="c3" d="M194 262h3v3h-3z"/>
<path class="c2" d="M194 258h3v3h-3z"/>
<path class="c1" d="M194 256h3v3h-3z"/>
<path class="c3" d="M194 245h3v3h-3z"/>
<path class="c2" d="M194 159h3v3h-3zM194 157h3v3h-3zM194 153h3v3h-3z"/>
<path class="c1" d="M194 135h3v3h-3zM194 130h3v3h-3z"/>
<path class="c2" d="M194 124h3v3h-3zM194 120h3v3h-3zM194 118h3v3h-3z"/>
<path class="c1" d="M194 117h3v3h-3zM194 115h3v3h-3zM194 114h3v3h-3zM194 106h3v3h-3zM195 263h3v3h-3z"/>
<path class="c2" d="M195 262h3v3h-3z"/>
<path class="c1" d="M195 259h3v3h-3z"/>
<path class="c2" d="M195 258h3v3h-3z"/>
<path class="c4" d="M195 255h3v3h-3z"/>
<path class="c1" d="M195 254h3v3h-3zM195 252h3v3h-3z"/>
<path class="c4" d="M195 250h3v3h-3z"/>
<path class="c3" d="M195 247h3v3h-3z"/>
<path class="c6" d="M195 242h3v3h-3z"/>
<path class="c1" d="M195 188h3v3h-3zM195 186h3v3h-3zM195 184h3v3h-3z"/>
<path class="c2" d="M195 182h3v3h-3z"/>
<path class="c1" d="M195 180h3v3h-3zM195 177h3v3h-3zM195 142h3v3h-3zM195 140h3v3h-3zM196 265h3v3h-3zM196 263h3v3h-3z"/>
<path class="c2" d="M196 256h3v3h-3z"/>
<path class="c1" d="M196 248h3v3h-3zM196 161h3v3h-3zM196 150h3v3h-3zM196 148h3v3h-3z"/>
<path class="c2" d="M196 136h3v3h-3z"/>
<path class="c1" d="M196 132h3v3h-3z"/>
<path class="c2" d="M196 128h3v3h-3z"/>
<path class="c1" d="M197 344h3v3h-3zM197 264h3v3h-3zM197 262h3v3h-3z"/>
<path class="c4" d="M197 260h3v3h-3zM197 250h3v3h-3z"/>
<path class="c2" d="M197 243h3v3h-3z"/>
<path class="c1" d="M197 192h3v3h-3zM197 189h3v3h-3zM197 188h3v3h-3zM197 186h3v3h-3z"/>
<path class="c2" d="M197 139h3v3h-3z"/>
<path class="c1" d="M198 345h3v3h-3zM198 325h3v3h-3z"/>
<path class="c5" d="M198 260h3v3h-3zM198 258h3v3h-3zM198 252h3v3h-3zM198 248h3v3h-3z"/>
<path class="c1" d="M198 245h3v3h-3zM198 244h3v3h-3zM198 197h3v3h-3zM198 195h3v3h-3zM198 152h3v3h-3z"/>
<path class="c2" d="M198 115h3v3h-3z"/>
<path class="c1" d="M198 112h3v3h-3zM199 344h3v3h-3z"/>
<path class="c2" d="M199 328h3v3h-3zM199 142h3v3h-3z"/>
<path class="c1" d="M199 139h3v3h-3zM200 345h3v3h-3zM200 266h3v3h-3zM200 263h3v3h-3z"/>
<path class="c4" d="M200 262h3v3h-3z"/>
<path class="c2" d="M200 261h3v3h-3z"/>
<path class="c5" d="M200 257h3v3h-3z"/>
<path class="c2" d="M200 256h3v3h-3z"/>
<path class="c3" d="M200 255h3v3h-3z"/>
<path class="c2" d="M200 253h3v3h-3zM200 250h3v3h-3z"/>
<path class="c5" d="M200 245h3v3h-3z"/>
<path class="c2" d="M200 244h3v3h-3z"/>
<path class="c1" d="M200 242h3v3h-3z"/>
<path class="c5" d="M200 132h3v3h-3zM200 131h3v3h-3zM200 129h3v3h-3z"/>
<path class="c2" d="M200 118h3v3h-3z"/>
<path class="c1" d="M200 115h3v3h-3zM200 109h3v3h-3z"/>
<path class="c2" d="M201 330h3v3h-3z"/>
<path class="c1" d="M201 324h3v3h-3zM201 238h3v3h-3z"/>
<path class="c3" d="M201 142h3v3h-3z"/>
<path class="c2" d="M201 140h3v3h-3z"/>
<path class="c5" d="M201 138h3v3h-3z"/>
<path class="c3" d="M201 136h3v3h-3z"/>
<path class="c4" d="M201 134h3v3h-3z"/>
<path class="c3" d="M201 126h3v3h-3z"/>
<path class="c4" d="M201 124h3v3h-3z"/>
<path class="c2" d="M202 333h3v3h-3z"/>
<path class="c1" d="M202 316h3v3h-3z"/>
<path class="c2" d="M202 260h3v3h-3z"/>
<path class="c3" d="M202 259h3v3h-3z"/>
<path class="c5" d="M202 258h3v3h-3z"/>
<path class="c4" d="M202 255h3v3h-3z"/>
<path class="c2" d="M202 254h3v3h-3z"/>
<path class="c5" d="M202 254h3v3h-3z"/>
<path class="c1" d="M202 252h3v3h-3z"/>
<path class="c2" d="M202 244h3v3h-3zM202 242h3v3h-3zM202 152h3v3h-3z"/>
<path class="c1" d="M202 147h3v3h-3z"/>
<path class="c5" d="M202 130h3v3h-3z"/>
<path class="c1" d="M202 122h3v3h-3z"/>
<path class="c3" d="M202 119h3v3h-3z"/>
<path class="c1" d="M202 115h3v3h-3zM202 106h3v3h-3zM203 263h3v3h-3zM204 345h3v3h-3zM204 313h3v3h-3zM204 310h3v3h-3zM204 264h3v3h-3zM204 263h3v3h-3z"/>
<path class="c5" d="M204 260h3v3h-3z"/>
<path class="c2" d="M204 250h3v3h-3z"/>
<path class="c6" d="M204 249h3v3h-3z"/>
<path class="c2" d="M204 246h3v3h-3z"/>
<path class="c1" d="M204 244h3v3h-3z"/>
<path class="c2" d="M204 243h3v3h-3z"/>
<path class="c1" d="M204 198h3v3h-3zM204 196h3v3h-3zM204 152h3v3h-3zM204 147h3v3h-3z"/>
<path class="c2" d="M204 112h3v3h-3zM204 108h3v3h-3zM204 102h3v3h-3z"/>
<path class="c1" d="M204 93h3v3h-3zM204 65h3v3h-3zM204 58h3v3h-3z"/>
<path class="c2" d="M205 319h3v3h-3z"/>
<path class="c1" d="M205 316h3v3h-3zM205 265h3v3h-3zM205 262h3v3h-3zM206 344h3v3h-3zM206 314h3v3h-3zM206 261h3v3h-3zM206 259h3v3h-3z"/>
<path class="c4" d="M206 257h3v3h-3z"/>
<path class="c2" d="M206 255h3v3h-3zM206 253h3v3h-3z"/>
<path class="c3" d="M206 251h3v3h-3z"/>
<path class="c2" d="M206 249h3v3h-3zM206 248h3v3h-3z"/>
<path class="c1" d="M206 247h3v3h-3z"/>
<path class="c6" d="M206 245h3v3h-3z"/>
<path class="c1" d="M206 148h3v3h-3zM206 146h3v3h-3zM206 134h3v3h-3zM207 344h3v3h-3zM207 266h3v3h-3z"/>
<path class="c3" d="M208 259h3v3h-3z"/>
<path class="c5" d="M208 256h3v3h-3zM208 256h3v3h-3z"/>
<path class="c1" d="M208 255h3v3h-3z"/>
<path class="c4" d="M208 250h3v3h-3z"/>
<path class="c5" d="M208 250h3v3h-3z"/>
<path class="c2" d="M208 246h3v3h-3z"/>
<path class="c4" d="M208 242h3v3h-3z"/>
<path class="c2" d="M208 136h3v3h-3z"/>
<path class="c1" d="M208 132h3v3h-3zM208 130h3v3h-3zM208 128h3v3h-3zM208 126h3v3h-3z"/>
<path class="c2" d="M209 146h3v3h-3z"/>
<path class="c1" d="M209 144h3v3h-3zM209 141h3v3h-3z"/>
<path class="c4" d="M210 343h3v3h-3zM210 343h3v3h-3z"/>
<path class="c1" d="M210 268h3v3h-3zM210 264h3v3h-3z"/>
<path class="c2" d="M210 262h3v3h-3z"/>
<path class="c1" d="M210 253h3v3h-3zM210 252h3v3h-3z"/>
<path class="c2" d="M210 243h3v3h-3z"/>
<path class="c6" d="M210 242h3v3h-3z"/>
<path class="c1" d="M210 238h3v3h-3zM210 199h3v3h-3zM210 197h3v3h-3z"/>
<path class="c2" d="M210 157h3v3h-3z"/>
<path class="c1" d="M210 154h3v3h-3z"/>
<path class="c4" d="M210 152h3v3h-3z"/>
<path class="c3" d="M210 150h3v3h-3zM210 148h3v3h-3z"/>
<path class="c4" d="M210 146h3v3h-3z"/>
<path class="c3" d="M210 144h3v3h-3zM210 142h3v3h-3z"/>
<path class="c2" d="M210 135h3v3h-3zM210 133h3v3h-3zM210 132h3v3h-3z"/>
<path class="c1" d="M210 125h3v3h-3zM210 109h3v3h-3z"/>
<path class="c2" d="M210 78h3v3h-3z"/>
<path class="c1" d="M210 77h3v3h-3zM210 74h3v3h-3zM210 72h3v3h-3zM212 345h3v3h-3zM212 264h3v3h-3z"/>
<path class="c2" d="M212 260h3v3h-3zM212 259h3v3h-3z"/>
<path class="c3" d="M212 257h3v3h-3zM212 254h3v3h-3z"/>
<path class="c2" d="M212 254h3v3h-3zM212 249h3v3h-3z"/>
<path class="c4" d="M212 248h3v3h-3z"/>
<path class="c1" d="M212 152h3v3h-3zM212 150h3v3h-3zM212 67h3v3h-3zM212 60h3v3h-3zM214 344h3v3h-3z"/>
<path class="c2" d="M214 262h3v3h-3z"/>
<path class="c3" d="M214 261h3v3h-3z"/>
<path class="c1" d="M214 259h3v3h-3zM214 258h3v3h-3z"/>
<path class="c3" d="M214 256h3v3h-3z"/>
<path class="c1" d="M214 254h3v3h-3z"/>
<path class="c3" d="M214 248h3v3h-3z"/>
<path class="c1" d="M214 245h3v3h-3z"/>
<path class="c2" d="M214 244h3v3h-3z"/>
<path class="c1" d="M214 244h3v3h-3z"/>
<path class="c5" d="M214 242h3v3h-3zM214 242h3v3h-3z"/>
<path class="c2" d="M214 138h3v3h-3z"/>
<path class="c1" d="M214 50h3v3h-3zM214 49h3v3h-3zM214 47h3v3h-3z"/>
<path class="c2" d="M214 45h3v3h-3zM214 44h3v3h-3z"/>
<path class="c1" d="M215 232h3v3h-3zM215 228h3v3h-3zM215 225h3v3h-3zM215 222h3v3h-3z"/>
<path class="c4" d="M215 219h3v3h-3z"/>
<path class="c1" d="M215 218h3v3h-3z"/>
<path class="c2" d="M215 216h3v3h-3z"/>
<path class="c1" d="M215 214h3v3h-3zM215 211h3v3h-3zM215 202h3v3h-3zM215 200h3v3h-3zM215 197h3v3h-3zM215 195h3v3h-3z"/>
<path class="c3" d="M215 190h3v3h-3z"/>
<path class="c1" d="M215 189h3v3h-3z"/>
<path class="c2" d="M216 237h3v3h-3z"/>
<path class="c1" d="M216 224h3v3h-3zM216 220h3v3h-3z"/>
<path class="c2" d="M216 198h3v3h-3z"/>
<path class="c1" d="M216 188h3v3h-3zM216 174h3v3h-3zM216 63h3v3h-3zM216 61h3v3h-3zM216 59h3v3h-3zM216 57h3v3h-3z"/>
<path class="c2" d="M216 55h3v3h-3z"/>
<path class="c1" d="M217 334h3v3h-3zM217 332h3v3h-3zM217 330h3v3h-3z"/>
<path class="c3" d="M217 230h3v3h-3z"/>
<path class="c1" d="M217 224h3v3h-3zM217 221h3v3h-3zM217 217h3v3h-3zM217 209h3v3h-3z"/>
<path class="c2" d="M217 204h3v3h-3zM217 198h3v3h-3z"/>
<path class="c1" d="M217 198h3v3h-3zM217 194h3v3h-3z"/>
<path class="c4" d="M217 192h3v3h-3zM217 188h3v3h-3zM218 253h3v3h-3z"/>
<path class="c2" d="M218 251h3v3h-3z"/>
<path class="c3" d="M218 242h3v3h-3z"/>
<path class="c1" d="M218 234h3v3h-3zM218 226h3v3h-3zM218 220h3v3h-3zM218 216h3v3h-3zM218 205h3v3h-3zM218 192h3v3h-3z"/>
<path class="c3" d="M218 187h3v3h-3z"/>
<path class="c2" d="M218 185h3v3h-3zM218 181h3v3h-3z"/>
<path class="c1" d="M218 168h3v3h-3zM218 166h3v3h-3zM218 164h3v3h-3z"/>
<path class="c2" d="M218 161h3v3h-3zM218 159h3v3h-3zM218 156h3v3h-3z"/>
<path class="c1" d="M218 147h3v3h-3zM218 128h3v3h-3zM218 122h3v3h-3zM218 109h3v3h-3zM218 107h3v3h-3zM218 102h3v3h-3zM218 100h3v3h-3zM218 97h3v3h-3zM218 85h3v3h-3zM218 75h3v3h-3zM219 333h3v3h-3zM219 332h3v3h-3zM219 330h3v3h-3z"/>
<path class="c2" d="M219 261h3v3h-3z"/>
<path class="c4" d="M219 257h3v3h-3z"/>
<path class="c1" d="M219 244h3v3h-3zM219 235h3v3h-3zM219 229h3v3h-3zM219 226h3v3h-3zM219 222h3v3h-3z"/>
<path class="c3" d="M219 221h3v3h-3z"/>
<path class="c1" d="M219 220h3v3h-3z"/>
<path class="c2" d="M219 218h3v3h-3z"/>
<path class="c1" d="M219 214h3v3h-3z"/>
<path class="c2" d="M219 204h3v3h-3z"/>
<path class="c1" d="M219 197h3v3h-3zM219 188h3v3h-3zM220 332h3v3h-3zM220 265h3v3h-3zM220 260h3v3h-3z"/>
<path class="c2" d="M220 201h3v3h-3z"/>
<path class="c1" d="M220 194h3v3h-3zM220 191h3v3h-3z"/>
<path class="c5" d="M220 182h3v3h-3z"/>
<path class="c3" d="M220 180h3v3h-3z"/>
<path class="c5" d="M220 178h3v3h-3z"/>
<path class="c2" d="M220 175h3v3h-3z"/>
<path class="c3" d="M220 173h3v3h-3zM220 171h3v3h-3z"/>
<path class="c5" d="M220 169h3v3h-3z"/>
<path class="c2" d="M220 167h3v3h-3zM220 165h3v3h-3z"/>
<path class="c3" d="M220 164h3v3h-3zM220 161h3v3h-3zM220 159h3v3h-3zM220 157h3v3h-3z"/>
<path class="c2" d="M220 155h3v3h-3z"/>
<path class="c1" d="M220 153h3v3h-3zM220 151h3v3h-3z"/>
<path class="c3" d="M220 148h3v3h-3z"/>
<path class="c1" d="M220 146h3v3h-3z"/>
<path class="c2" d="M220 144h3v3h-3zM220 142h3v3h-3zM220 140h3v3h-3z"/>
<path class="c1" d="M220 133h3v3h-3z"/>
<path class="c2" d="M220 122h3v3h-3z"/>
<path class="c1" d="M220 119h3v3h-3zM220 117h3v3h-3zM220 112h3v3h-3z"/>
<path class="c2" d="M220 108h3v3h-3z"/>
<path class="c1" d="M220 99h3v3h-3z"/>
<path class="c2" d="M220 93h3v3h-3zM220 90h3v3h-3zM220 88h3v3h-3z"/>
<path class="c1" d="M220 75h3v3h-3zM220 66h3v3h-3zM220 54h3v3h-3z"/>
<path class="c2" d="M220 52h3v3h-3zM220 50h3v3h-3zM220 48h3v3h-3zM220 46h3v3h-3zM220 44h3v3h-3z"/>
<path class="c1" d="M221 255h3v3h-3z"/>
<path class="c4" d="M221 248h3v3h-3z"/>
<path class="c3" d="M221 246h3v3h-3z"/>
<path class="c4" d="M221 244h3v3h-3z"/>
<path class="c1" d="M222 345h3v3h-3zM222 344h3v3h-3z"/>
<path class="c2" d="M222 335h3v3h-3z"/>
<path class="c1" d="M222 263h3v3h-3z"/>
<path class="c3" d="M222 260h3v3h-3z"/>
<path class="c2" d="M222 232h3v3h-3z"/>
<path class="c1" d="M222 229h3v3h-3zM222 228h3v3h-3zM222 226h3v3h-3zM222 225h3v3h-3zM222 221h3v3h-3zM222 219h3v3h-3z"/>
<path class="c2" d="M222 217h3v3h-3z"/>
<path class="c4" d="M222 213h3v3h-3z"/>
<path class="c1" d="M222 209h3v3h-3z"/>
<path class="c2" d="M222 206h3v3h-3z"/>
<path class="c1" d="M222 202h3v3h-3z"/>
<path class="c3" d="M222 201h3v3h-3z"/>
<path class="c1" d="M222 198h3v3h-3zM222 197h3v3h-3zM222 190h3v3h-3zM222 186h3v3h-3zM222 184h3v3h-3zM222 180h3v3h-3zM222 177h3v3h-3zM222 176h3v3h-3zM222 174h3v3h-3zM222 172h3v3h-3zM222 170h3v3h-3zM222 168h3v3h-3zM222 165h3v3h-3zM222 157h3v3h-3zM222 155h3v3h-3zM222 151h3v3h-3z"/>
<path class="c3" d="M222 149h3v3h-3zM222 148h3v3h-3z"/>
<path class="c1" d="M222 142h3v3h-3zM222 139h3v3h-3zM222 138h3v3h-3zM222 137h3v3h-3zM222 135h3v3h-3zM222 126h3v3h-3zM222 124h3v3h-3zM222 122h3v3h-3zM222 114h3v3h-3zM222 49h3v3h-3z"/>
<path class="c4" d="M223 259h3v3h-3z"/>
<path class="c1" d="M223 256h3v3h-3zM223 255h3v3h-3z"/>
<path class="c3" d="M223 249h3v3h-3z"/>
<path class="c1" d="M223 247h3v3h-3z"/>
<path class="c4" d="M223 244h3v3h-3z"/>
<path class="c3" d="M223 241h3v3h-3z"/>
<path class="c4" d="M223 239h3v3h-3z"/>
<path class="c1" d="M224 238h3v3h-3zM224 229h3v3h-3zM224 228h3v3h-3z"/>
<path class="c2" d="M224 226h3v3h-3z"/>
<path class="c1" d="M224 220h3v3h-3zM224 217h3v3h-3z"/>
<path class="c2" d="M224 213h3v3h-3z"/>
<path class="c1" d="M224 210h3v3h-3zM224 208h3v3h-3zM224 207h3v3h-3zM224 206h3v3h-3zM224 204h3v3h-3zM224 203h3v3h-3zM224 201h3v3h-3zM224 200h3v3h-3zM224 197h3v3h-3zM224 192h3v3h-3zM224 184h3v3h-3zM224 175h3v3h-3zM224 173h3v3h-3zM224 171h3v3h-3zM224 169h3v3h-3zM224 167h3v3h-3zM224 165h3v3h-3zM224 147h3v3h-3zM224 141h3v3h-3zM224 124h3v3h-3zM224 86h3v3h-3zM224 71h3v3h-3z"/>
<path class="c2" d="M225 345h3v3h-3zM225 344h3v3h-3z"/>
<path class="c1" d="M225 261h3v3h-3z"/>
<path class="c2" d="M225 259h3v3h-3z"/>
<path class="c4" d="M225 257h3v3h-3z"/>
<path class="c3" d="M225 253h3v3h-3zM225 253h3v3h-3z"/>
<path class="c1" d="M225 251h3v3h-3z"/>
<path class="c2" d="M225 248h3v3h-3zM225 246h3v3h-3z"/>
<path class="c4" d="M225 244h3v3h-3z"/>
<path class="c2" d="M225 243h3v3h-3zM226 236h3v3h-3zM226 235h3v3h-3z"/>
<path class="c1" d="M226 228h3v3h-3z"/>
<path class="c3" d="M226 220h3v3h-3z"/>
<path class="c1" d="M226 216h3v3h-3zM226 210h3v3h-3zM226 210h3v3h-3z"/>
<path class="c3" d="M226 208h3v3h-3z"/>
<path class="c1" d="M226 205h3v3h-3zM226 203h3v3h-3z"/>
<path class="c3" d="M226 203h3v3h-3z"/>
<path class="c1" d="M226 201h3v3h-3zM226 200h3v3h-3zM226 198h3v3h-3z"/>
<path class="c3" d="M226 195h3v3h-3z"/>
<path class="c1" d="M226 194h3v3h-3z"/>
<path class="c3" d="M226 192h3v3h-3z"/>
<path class="c1" d="M226 189h3v3h-3zM226 157h3v3h-3z"/>
<path class="c3" d="M226 148h3v3h-3z"/>
<path class="c2" d="M226 146h3v3h-3z"/>
<path class="c1" d="M226 136h3v3h-3zM226 133h3v3h-3zM226 125h3v3h-3z"/>
<path class="c2" d="M226 115h3v3h-3z"/>
<path class="c1" d="M226 111h3v3h-3zM226 109h3v3h-3zM226 107h3v3h-3zM226 105h3v3h-3z"/>
<path class="c2" d="M226 101h3v3h-3zM226 98h3v3h-3z"/>
<path class="c1" d="M226 96h3v3h-3zM226 81h3v3h-3z"/>
<path class="c2" d="M226 79h3v3h-3z"/>
<path class="c1" d="M226 77h3v3h-3zM226 75h3v3h-3zM226 72h3v3h-3zM226 66h3v3h-3zM226 58h3v3h-3zM226 53h3v3h-3z"/>
<path class="c3" d="M227 258h3v3h-3zM227 257h3v3h-3zM227 255h3v3h-3z"/>
<path class="c2" d="M227 254h3v3h-3z"/>
<path class="c1" d="M227 251h3v3h-3zM227 250h3v3h-3z"/>
<path class="c3" d="M227 247h3v3h-3z"/>
<path class="c2" d="M227 242h3v3h-3z"/>
<path class="c4" d="M227 240h3v3h-3z"/>
<path class="c2" d="M227 238h3v3h-3z"/>
<path class="c1" d="M228 345h3v3h-3zM228 233h3v3h-3z"/>
<path class="c2" d="M228 232h3v3h-3z"/>
<path class="c1" d="M228 229h3v3h-3z"/>
<path class="c2" d="M228 228h3v3h-3zM228 222h3v3h-3z"/>
<path class="c1" d="M228 214h3v3h-3zM228 212h3v3h-3z"/>
<path class="c2" d="M228 208h3v3h-3zM228 199h3v3h-3zM228 192h3v3h-3zM228 189h3v3h-3zM228 132h3v3h-3z"/>
<path class="c1" d="M228 68h3v3h-3zM228 58h3v3h-3zM228 49h3v3h-3z"/>
<path class="c2" d="M229 344h3v3h-3zM229 260h3v3h-3z"/>
<path class="c1" d="M229 259h3v3h-3zM229 256h3v3h-3z"/>
<path class="c2" d="M229 253h3v3h-3z"/>
<path class="c1" d="M229 253h3v3h-3z"/>
<path class="c4" d="M229 247h3v3h-3z"/>
<path class="c2" d="M229 245h3v3h-3z"/>
<path class="c1" d="M229 245h3v3h-3z"/>
<path class="c2" d="M229 243h3v3h-3z"/>
<path class="c3" d="M229 241h3v3h-3z"/>
<path class="c4" d="M229 240h3v3h-3z"/>
<path class="c1" d="M229 188h3v3h-3zM229 186h3v3h-3zM229 184h3v3h-3zM229 182h3v3h-3z"/>
<path class="c2" d="M229 180h3v3h-3z"/>
<path class="c1" d="M229 179h3v3h-3zM229 177h3v3h-3z"/>
<path class="c3" d="M229 176h3v3h-3z"/>
<path class="c1" d="M229 174h3v3h-3z"/>
<path class="c3" d="M229 172h3v3h-3z"/>
<path class="c1" d="M229 170h3v3h-3z"/>
<path class="c2" d="M229 168h3v3h-3z"/>
<path class="c1" d="M229 167h3v3h-3zM229 166h3v3h-3zM229 164h3v3h-3z"/>
<path class="c2" d="M229 162h3v3h-3z"/>
<path class="c1" d="M229 159h3v3h-3zM229 157h3v3h-3z"/>
<path class="c2" d="M229 155h3v3h-3z"/>
<path class="c1" d="M229 154h3v3h-3zM229 152h3v3h-3z"/>
<path class="c3" d="M229 151h3v3h-3zM229 149h3v3h-3z"/>
<path class="c1" d="M229 147h3v3h-3zM229 145h3v3h-3zM229 142h3v3h-3zM229 138h3v3h-3z"/>
<path class="c3" d="M229 132h3v3h-3z"/>
<path class="c1" d="M229 127h3v3h-3zM229 117h3v3h-3zM229 112h3v3h-3zM229 78h3v3h-3zM229 69h3v3h-3zM229 58h3v3h-3zM229 49h3v3h-3z"/>
<path class="c3" d="M230 235h3v3h-3z"/>
<path class="c4" d="M230 233h3v3h-3z"/>
<path class="c2" d="M230 228h3v3h-3zM230 228h3v3h-3z"/>
<path class="c1" d="M230 225h3v3h-3zM230 219h3v3h-3zM230 218h3v3h-3z"/>
<path class="c3" d="M230 217h3v3h-3z"/>
<path class="c2" d="M230 206h3v3h-3z"/>
<path class="c1" d="M230 204h3v3h-3zM230 200h3v3h-3zM230 196h3v3h-3zM230 195h3v3h-3zM230 194h3v3h-3zM230 191h3v3h-3zM230 190h3v3h-3z"/>
<path class="c4" d="M230 188h3v3h-3z"/>
<path class="c2" d="M231 260h3v3h-3zM231 257h3v3h-3zM231 254h3v3h-3z"/>
<path class="c1" d="M231 248h3v3h-3z"/>
<path class="c3" d="M231 246h3v3h-3z"/>
<path class="c1" d="M231 245h3v3h-3z"/>
<path class="c3" d="M231 187h3v3h-3z"/>
<path class="c1" d="M231 170h3v3h-3zM231 167h3v3h-3zM231 132h3v3h-3zM231 130h3v3h-3zM231 128h3v3h-3zM231 118h3v3h-3z"/>
<path class="c3" d="M231 116h3v3h-3z"/>
<path class="c2" d="M231 114h3v3h-3z"/>
<path class="c4" d="M231 112h3v3h-3z"/>
<path class="c2" d="M231 111h3v3h-3z"/>
<path class="c1" d="M231 110h3v3h-3z"/>
<path class="c3" d="M231 108h3v3h-3z"/>
<path class="c4" d="M231 106h3v3h-3z"/>
<path class="c6" d="M231 104h3v3h-3z"/>
<path class="c4" d="M231 103h3v3h-3zM231 101h3v3h-3z"/>
<path class="c1" d="M231 99h3v3h-3z"/>
<path class="c4" d="M231 97h3v3h-3z"/>
<path class="c3" d="M231 96h3v3h-3z"/>
<path class="c2" d="M231 95h3v3h-3zM231 93h3v3h-3zM231 91h3v3h-3zM231 88h3v3h-3zM231 87h3v3h-3z"/>
<path class="c1" d="M231 83h3v3h-3zM231 74h3v3h-3zM231 62h3v3h-3z"/>
<path class="c3" d="M232 238h3v3h-3z"/>
<path class="c2" d="M232 236h3v3h-3z"/>
<path class="c1" d="M232 233h3v3h-3zM232 230h3v3h-3z"/>
<path class="c2" d="M232 224h3v3h-3zM232 220h3v3h-3z"/>
<path class="c1" d="M232 219h3v3h-3z"/>
<path class="c2" d="M232 215h3v3h-3z"/>
<path class="c1" d="M232 214h3v3h-3zM232 212h3v3h-3z"/>
<path class="c2" d="M232 207h3v3h-3z"/>
<path class="c1" d="M232 207h3v3h-3z"/>
<path class="c2" d="M232 197h3v3h-3zM232 194h3v3h-3z"/>
<path class="c1" d="M232 190h3v3h-3zM232 159h3v3h-3zM233 344h3v3h-3zM233 261h3v3h-3z"/>
<path class="c3" d="M233 260h3v3h-3z"/>
<path class="c2" d="M233 258h3v3h-3zM233 257h3v3h-3z"/>
<path class="c3" d="M233 254h3v3h-3z"/>
<path class="c2" d="M233 251h3v3h-3zM233 249h3v3h-3z"/>
<path class="c1" d="M233 248h3v3h-3z"/>
<path class="c4" d="M233 246h3v3h-3z"/>
<path class="c1" d="M233 244h3v3h-3zM233 243h3v3h-3z"/>
<path class="c4" d="M233 242h3v3h-3z"/>
<path class="c3" d="M233 239h3v3h-3z"/>
<path class="c2" d="M233 184h3v3h-3zM233 182h3v3h-3z"/>
<path class="c1" d="M233 175h3v3h-3zM233 168h3v3h-3zM233 160h3v3h-3zM233 138h3v3h-3zM233 118h3v3h-3zM233 68h3v3h-3zM233 64h3v3h-3z"/>
<path class="c2" d="M233 60h3v3h-3z"/>
<path class="c3" d="M234 235h3v3h-3z"/>
<path class="c2" d="M234 229h3v3h-3z"/>
<path class="c1" d="M234 224h3v3h-3z"/>
<path class="c3" d="M234 219h3v3h-3z"/>
<path class="c4" d="M234 216h3v3h-3z"/>
<path class="c2" d="M234 215h3v3h-3z"/>
<path class="c1" d="M234 212h3v3h-3zM234 208h3v3h-3zM234 205h3v3h-3z"/>
<path class="c2" d="M234 204h3v3h-3z"/>
<path class="c1" d="M234 203h3v3h-3zM234 199h3v3h-3z"/>
<path class="c2" d="M234 197h3v3h-3zM234 195h3v3h-3z"/>
<path class="c1" d="M234 190h3v3h-3zM234 189h3v3h-3z"/>
<path class="c3" d="M235 265h3v3h-3z"/>
<path class="c1" d="M235 260h3v3h-3zM235 258h3v3h-3z"/>
<path class="c4" d="M235 254h3v3h-3zM235 253h3v3h-3z"/>
<path class="c1" d="M235 251h3v3h-3z"/>
<path class="c3" d="M235 249h3v3h-3z"/>
<path class="c2" d="M235 246h3v3h-3z"/>
<path class="c3" d="M235 245h3v3h-3z"/>
<path class="c2" d="M235 244h3v3h-3zM235 242h3v3h-3z"/>
<path class="c5" d="M235 240h3v3h-3z"/>
<path class="c3" d="M235 239h3v3h-3z"/>
<path class="c5" d="M235 238h3v3h-3z"/>
<path class="c4" d="M235 139h3v3h-3z"/>
<path class="c3" d="M235 136h3v3h-3zM235 133h3v3h-3z"/>
<path class="c4" d="M235 131h3v3h-3z"/>
<path class="c2" d="M235 128h3v3h-3z"/>
<path class="c1" d="M235 125h3v3h-3zM235 121h3v3h-3zM235 119h3v3h-3zM235 117h3v3h-3zM235 115h3v3h-3zM235 108h3v3h-3z"/>
<path class="c2" d="M235 102h3v3h-3z"/>
<path class="c1" d="M235 92h3v3h-3z"/>
<path class="c2" d="M235 80h3v3h-3zM235 78h3v3h-3z"/>
<path class="c1" d="M235 76h3v3h-3zM235 74h3v3h-3zM235 68h3v3h-3zM235 67h3v3h-3zM235 65h3v3h-3zM235 44h3v3h-3z"/>
<path class="c2" d="M237 345h3v3h-3zM237 344h3v3h-3z"/>
<path class="c1" d="M237 271h3v3h-3z"/>
<path class="c4" d="M237 259h3v3h-3z"/>
<path class="c3" d="M237 254h3v3h-3z"/>
<path class="c2" d="M237 253h3v3h-3zM237 248h3v3h-3z"/>
<path class="c1" d="M237 247h3v3h-3zM237 242h3v3h-3zM237 168h3v3h-3zM237 165h3v3h-3z"/>
<path class="c2" d="M237 156h3v3h-3zM237 154h3v3h-3zM237 152h3v3h-3z"/>
<path class="c3" d="M237 151h3v3h-3z"/>
<path class="c2" d="M237 148h3v3h-3zM237 146h3v3h-3z"/>
<path class="c1" d="M237 142h3v3h-3zM237 140h3v3h-3zM237 133h3v3h-3zM237 48h3v3h-3z"/>
<path class="c2" d="M238 244h3v3h-3z"/>
<path class="c4" d="M239 266h3v3h-3z"/>
<path class="c1" d="M239 212h3v3h-3zM239 210h3v3h-3z"/>
<path class="c6" d="M239 181h3v3h-3z"/>
<path class="c3" d="M239 180h3v3h-3z"/>
<path class="c4" d="M239 178h3v3h-3z"/>
<path class="c3" d="M239 175h3v3h-3z"/>
<path class="c2" d="M239 173h3v3h-3zM239 171h3v3h-3z"/>
<path class="c1" d="M239 170h3v3h-3zM239 168h3v3h-3zM239 165h3v3h-3zM239 97h3v3h-3zM239 92h3v3h-3zM239 83h3v3h-3z"/>
<path class="c2" d="M239 81h3v3h-3z"/>
<path class="c1" d="M239 79h3v3h-3zM239 78h3v3h-3z"/>
<path class="c2" d="M239 76h3v3h-3z"/>
<path class="c1" d="M239 75h3v3h-3zM239 74h3v3h-3z"/>
<path class="c2" d="M240 345h3v3h-3z"/>
<path class="c1" d="M241 345h3v3h-3zM241 344h3v3h-3z"/>
<path class="c5" d="M241 282h3v3h-3z"/>
<path class="c2" d="M241 279h3v3h-3z"/>
<path class="c3" d="M241 276h3v3h-3z"/>
<path class="c1" d="M241 270h3v3h-3z"/>
<path class="c3" d="M241 192h3v3h-3z"/>
<path class="c5" d="M241 190h3v3h-3z"/>
<path class="c2" d="M241 186h3v3h-3z"/>
<path class="c1" d="M241 182h3v3h-3zM241 110h3v3h-3z"/>
<path class="c3" d="M241 108h3v3h-3z"/>
<path class="c7" d="M241 107h3v3h-3zM241 105h3v3h-3z"/>
<path class="c2" d="M241 101h3v3h-3z"/>
<path class="c1" d="M241 98h3v3h-3zM241 94h3v3h-3zM241 79h3v3h-3z"/>
<path class="c2" d="M243 344h3v3h-3z"/>
<path class="c3" d="M243 287h3v3h-3z"/>
<path class="c2" d="M243 283h3v3h-3z"/>
<path class="c1" d="M243 279h3v3h-3z"/>
<path class="c3" d="M243 200h3v3h-3z"/>
<path class="c1" d="M243 197h3v3h-3zM243 196h3v3h-3z"/>
<path class="c2" d="M243 120h3v3h-3z"/>
<path class="c3" d="M243 118h3v3h-3zM243 117h3v3h-3z"/>
<path class="c1" d="M243 111h3v3h-3zM243 108h3v3h-3z"/>
<path class="c2" d="M243 107h3v3h-3zM243 105h3v3h-3zM243 104h3v3h-3z"/>
<path class="c1" d="M243 101h3v3h-3zM243 91h3v3h-3zM245 345h3v3h-3zM245 344h3v3h-3z"/>
<path class="c2" d="M245 344h3v3h-3z"/>
<path class="c1" d="M245 291h3v3h-3zM245 286h3v3h-3z"/>
<path class="c2" d="M245 205h3v3h-3zM245 202h3v3h-3z"/>
<path class="c1" d="M245 128h3v3h-3z"/>
<path class="c2" d="M245 126h3v3h-3z"/>
<path class="c1" d="M245 125h3v3h-3z"/>
<path class="c2" d="M245 124h3v3h-3zM245 122h3v3h-3z"/>
<path class="c1" d="M245 113h3v3h-3zM245 111h3v3h-3z"/>
<path class="c2" d="M247 344h3v3h-3z"/>
<path class="c1" d="M247 287h3v3h-3zM247 284h3v3h-3z"/>
<path class="c2" d="M247 219h3v3h-3z"/>
<path class="c1" d="M247 215h3v3h-3z"/>
<path class="c7" d="M247 140h3v3h-3zM247 139h3v3h-3z"/>
<path class="c4" d="M247 137h3v3h-3z"/>
<path class="c2" d="M247 64h3v3h-3z"/>
<path class="c6" d="M247 62h3v3h-3z"/>
<path class="c3" d="M247 60h3v3h-3zM247 58h3v3h-3z"/>
<path class="c1" d="M247 47h3v3h-3z"/>
<path class="c2" d="M249 344h3v3h-3z"/>
<path class="c3" d="M249 295h3v3h-3z"/>
<path class="c5" d="M249 226h3v3h-3z"/>
<path class="c3" d="M249 225h3v3h-3zM249 222h3v3h-3z"/>
<path class="c5" d="M249 152h3v3h-3z"/>
<path class="c2" d="M249 148h3v3h-3zM249 147h3v3h-3z"/>
<path class="c5" d="M249 78h3v3h-3z"/>
<path class="c1" d="M249 76h3v3h-3z"/>
<path class="c4" d="M250 299h3v3h-3z"/>
<path class="c1" d="M250 292h3v3h-3zM251 344h3v3h-3zM251 287h3v3h-3zM251 225h3v3h-3zM251 223h3v3h-3zM251 220h3v3h-3zM251 150h3v3h-3zM251 145h3v3h-3zM251 141h3v3h-3z"/>
<path class="c2" d="M251 83h3v3h-3z"/>
<path class="c1" d="M251 74h3v3h-3z"/>
<path class="c3" d="M251 73h3v3h-3z"/>
<path class="c5" d="M251 71h3v3h-3z"/>
<path class="c2" d="M251 69h3v3h-3z"/>
<path class="c1" d="M252 345h3v3h-3z"/>
<path class="c4" d="M252 229h3v3h-3z"/>
<path class="c1" d="M253 344h3v3h-3z"/>
<path class="c4" d="M253 295h3v3h-3z"/>
<path class="c1" d="M253 290h3v3h-3zM253 288h3v3h-3zM253 83h3v3h-3z"/>
<path class="c2" d="M254 344h3v3h-3zM255 344h3v3h-3zM255 225h3v3h-3z"/>
<path class="c1" d="M255 220h3v3h-3z"/>
<path class="c2" d="M255 161h3v3h-3z"/>
<path class="c1" d="M255 158h3v3h-3zM256 295h3v3h-3zM256 289h3v3h-3zM257 344h3v3h-3z"/>
<path class="c2" d="M257 222h3v3h-3z"/>
<path class="c1" d="M257 218h3v3h-3zM257 146h3v3h-3zM258 345h3v3h-3z"/>
<path class="c2" d="M259 344h3v3h-3zM259 287h3v3h-3z"/>
<path class="c1" d="M259 218h3v3h-3z"/>
<path class="c2" d="M259 215h3v3h-3z"/>
<path class="c5" d="M259 213h3v3h-3z"/>
<path class="c2" d="M259 211h3v3h-3z"/>
<path class="c5" d="M259 208h3v3h-3z"/>
<path class="c3" d="M259 205h3v3h-3z"/>
<path class="c2" d="M259 203h3v3h-3zM259 200h3v3h-3z"/>
<path class="c3" d="M259 198h3v3h-3zM259 196h3v3h-3z"/>
<path class="c1" d="M259 195h3v3h-3zM259 193h3v3h-3zM260 344h3v3h-3z"/>
<path class="c4" d="M260 301h3v3h-3z"/>
<path class="c1" d="M260 294h3v3h-3zM260 292h3v3h-3zM260 290h3v3h-3z"/>
<path class="c5" d="M261 312h3v3h-3z"/>
<path class="c2" d="M261 309h3v3h-3z"/>
<path class="c3" d="M261 303h3v3h-3z"/>
<path class="c1" d="M261 288h3v3h-3zM261 286h3v3h-3zM261 284h3v3h-3zM261 281h3v3h-3zM261 279h3v3h-3zM261 277h3v3h-3zM261 275h3v3h-3zM261 273h3v3h-3z"/>
<path class="c2" d="M261 272h3v3h-3z"/>
<path class="c1" d="M261 270h3v3h-3zM261 268h3v3h-3z"/>
<path class="c2" d="M261 265h3v3h-3zM261 262h3v3h-3z"/>
<path class="c1" d="M261 260h3v3h-3z"/>
<path class="c2" d="M261 258h3v3h-3z"/>
<path class="c1" d="M261 257h3v3h-3zM261 255h3v3h-3zM261 253h3v3h-3z"/>
<path class="c2" d="M261 251h3v3h-3z"/>
<path class="c1" d="M261 250h3v3h-3zM261 248h3v3h-3zM261 246h3v3h-3z"/>
<path class="c2" d="M261 244h3v3h-3z"/>
<path class="c3" d="M261 242h3v3h-3zM261 240h3v3h-3z"/>
<path class="c2" d="M261 238h3v3h-3z"/>
<path class="c3" d="M261 238h3v3h-3z"/>
<path class="c2" d="M261 237h3v3h-3z"/>
<path class="c1" d="M261 235h3v3h-3zM261 233h3v3h-3zM261 229h3v3h-3zM261 227h3v3h-3zM261 224h3v3h-3zM261 188h3v3h-3zM261 186h3v3h-3zM261 184h3v3h-3z"/>
<path class="c3" d="M261 180h3v3h-3z"/>
<path class="c4" d="M261 178h3v3h-3z"/>
<path class="c2" d="M261 176h3v3h-3z"/>
<path class="c3" d="M261 173h3v3h-3z"/>
<path class="c2" d="M261 171h3v3h-3zM261 169h3v3h-3z"/>
<path class="c1" d="M261 168h3v3h-3zM261 166h3v3h-3zM261 165h3v3h-3zM261 118h3v3h-3zM262 344h3v3h-3z"/>
<path class="c2" d="M264 345h3v3h-3z"/>
<path class="c1" d="M264 344h3v3h-3z"/>
<path class="c4" d="M264 311h3v3h-3z"/>
<path class="c1" d="M264 303h3v3h-3z"/>
<path class="c2" d="M264 248h3v3h-3z"/>
<path class="c1" d="M264 191h3v3h-3z"/>
<path class="c5" d="M264 189h3v3h-3z"/>
<path class="c1" d="M264 188h3v3h-3zM264 187h3v3h-3zM264 129h3v3h-3zM264 127h3v3h-3zM265 344h3v3h-3zM266 305h3v3h-3zM266 243h3v3h-3z"/>
<path class="c2" d="M267 344h3v3h-3z"/>
<path class="c1" d="M267 344h3v3h-3z"/>
<path class="c5" d="M268 311h3v3h-3z"/>
<path class="c1" d="M268 252h3v3h-3zM269 344h3v3h-3zM269 344h3v3h-3zM269 309h3v3h-3zM269 306h3v3h-3zM270 317h3v3h-3zM270 257h3v3h-3z"/>
<path class="c4" d="M270 254h3v3h-3z"/>
<path class="c1" d="M270 246h3v3h-3z"/>
<path class="c2" d="M272 344h3v3h-3zM272 261h3v3h-3z"/>
<path class="c1" d="M272 252h3v3h-3zM273 344h3v3h-3zM274 344h3v3h-3zM276 344h3v3h-3z"/>
<path class="c5" d="M276 323h3v3h-3z"/>
<path class="c2" d="M276 320h3v3h-3z"/>
<path class="c1" d="M276 318h3v3h-3zM276 315h3v3h-3zM276 261h3v3h-3zM277 345h3v3h-3z"/>
<path class="c2" d="M277 324h3v3h-3zM280 320h3v3h-3z"/>
<path class="c1" d="M280 316h3v3h-3z"/>
<path class="c2" d="M282 344h3v3h-3z"/>
<path class="c1" d="M282 321h3v3h-3z"/>
<path class="c3" d="M283 323h3v3h-3z"/>
<path class="c1" d="M284 344h3v3h-3z"/>
<path class="c2" d="M285 324h3v3h-3z"/>
<path class="c1" d="M286 344h3v3h-3z"/>
<path class="c2" d="M288 344h3v3h-3zM288 325h3v3h-3zM290 344h3v3h-3z"/>
<path class="c1" d="M292 344h3v3h-3zM294 344h3v3h-3z"/>
<path class="c4" d="M294 329h3v3h-3z"/>
<path class="c1" d="M296 344h3v3h-3zM298 344h3v3h-3zM298 330h3v3h-3z"/>
<path class="c2" d="M300 344h3v3h-3zM301 332h3v3h-3zM302 344h3v3h-3zM304 334h3v3h-3zM305 344h3v3h-3zM307 344h3v3h-3zM307 335h3v3h-3z"/>
<path class="c1" d="M307 332h3v3h-3zM311 344h3v3h-3z"/>
<path class="c2" d="M313 344h3v3h-3z"/>
<path class="c6" d="M313 339h3v3h-3z"/>
<path class="c1" d="M313 337h3v3h-3zM315 344h3v3h-3z"/>
<path class="c2" d="M317 344h3v3h-3zM319 344h3v3h-3z"/>
<path class="c1" d="M321 344h3v3h-3zM323 344h3v3h-3z"/>
<path class="c2" d="M324 338h3v3h-3z"/>
<path class="c1" d="M324 336h3v3h-3zM325 344h3v3h-3z"/>
<path class="c2" d="M326 335h3v3h-3z"/>
<path class="c1" d="M327 344h3v3h-3z"/>
<path class="c5" d="M327 338h3v3h-3z"/>
<path class="c1" d="M328 335h3v3h-3zM329 344h3v3h-3zM329 292h3v3h-3z"/>
<path class="c3" d="M331 335h3v3h-3z"/>
<path class="c2" d="M332 344h3v3h-3z"/>
<path class="c1" d="M334 338h3v3h-3zM336 344h3v3h-3zM336 337h3v3h-3zM337 344h3v3h-3zM339 344h3v3h-3zM341 344h3v3h-3zM342 339h3v3h-3zM348 344h3v3h-3z"/>
<path class="c2" d="M348 339h3v3h-3zM350 344h3v3h-3z"/>
<path class="c1" d="M352 344h3v3h-3zM352 336h3v3h-3zM354 344h3v3h-3z"/>
<path class="c2" d="M354 338h3v3h-3z"/>
<path class="c1" d="M355 335h3v3h-3zM356 344h3v3h-3z"/>
<path class="c2" d="M357 338h3v3h-3z"/>
<path class="c1" d="M357 335h3v3h-3zM358 344h3v3h-3zM360 344h3v3h-3zM360 336h3v3h-3zM361 338h3v3h-3zM362 344h3v3h-3z"/>
<path class="c2" d="M364 344h3v3h-3zM364 336h3v3h-3z"/>
<path class="c1" d="M366 344h3v3h-3z"/>
<path class="c2" d="M368 344h3v3h-3zM371 344h3v3h-3zM372 344h3v3h-3z"/>
<path class="c1" d="M375 344h3v3h-3zM375 336h3v3h-3zM376 344h3v3h-3z"/>
<path class="c2" d="M377 336h3v3h-3z"/>
<path class="c4" d="M383 336h3v3h-3z"/>
<path class="c2" d="M384 344h3v3h-3zM388 344h3v3h-3z"/>
<path class="c1" d="M388 336h3v3h-3zM390 344h3v3h-3zM391 335h3v3h-3z"/>
<path class="c2" d="M392 344h3v3h-3zM394 344h3v3h-3z"/>
<path class="c1" d="M396 344h3v3h-3zM397 335h3v3h-3z"/>
<path class="c2" d="M400 335h3v3h-3z"/>
<path class="c3" d="M401 337h3v3h-3z"/>
<path class="c2" d="M404 344h3v3h-3z"/>
<path class="c1" d="M404 336h3v3h-3zM406 344h3v3h-3z"/>
<path class="c2" d="M410 335h3v3h-3z"/>
<path class="c1" d="M412 344h3v3h-3z"/>
<path class="c2" d="M414 344h3v3h-3z"/>
<path class="c4" d="M414 335h3v3h-3z"/>
<path class="c2" d="M416 344h3v3h-3z"/>
<path class="c1" d="M418 344h3v3h-3zM418 334h3v3h-3zM420 344h3v3h-3z"/>
<path class="c2" d="M422 344h3v3h-3z"/>
<path class="c6" d="M422 332h3v3h-3z"/>
<path class="c1" d="M424 344h3v3h-3z"/>
<path class="c6" d="M424 332h3v3h-3z"/>
<path class="c1" d="M426 344h3v3h-3zM428 330h3v3h-3zM431 344h3v3h-3zM431 343h3v3h-3zM432 344h3v3h-3zM434 344h3v3h-3z"/>
<path class="c2" d="M434 341h3v3h-3z"/>
<path class="c1" d="M434 328h3v3h-3zM436 344h3v3h-3zM436 330h3v3h-3z"/>
<path class="c2" d="M438 344h3v3h-3zM438 343h3v3h-3zM438 330h3v3h-3z"/>
<path class="c1" d="M440 344h3v3h-3zM441 340h3v3h-3zM442 344h3v3h-3zM443 324h3v3h-3z"/>
<path class="c2" d="M443 321h3v3h-3z"/>
<path class="c1" d="M444 344h3v3h-3zM444 340h3v3h-3z"/>
<path class="c4" d="M445 333h3v3h-3z"/>
<path class="c5" d="M445 330h3v3h-3z"/>
<path class="c4" d="M446 333h3v3h-3z"/>
<path class="c2" d="M447 344h3v3h-3z"/>
<path class="c1" d="M449 344h3v3h-3zM449 295h3v3h-3z"/>
<path class="c2" d="M451 344h3v3h-3z"/>
<path class="c1" d="M453 344h3v3h-3z"/>
<path class="c4" d="M455 335h3v3h-3z"/>
<path class="c1" d="M457 344h3v3h-3z"/>
<path class="c2" d="M457 335h3v3h-3zM458 298h3v3h-3z"/>
<path class="c1" d="M459 344h3v3h-3z"/>
<path class="c3" d="M460 337h3v3h-3z"/>
<path class="c1" d="M461 344h3v3h-3z"/>
<path class="c6" d="M461 300h3v3h-3z"/>
<path class="c1" d="M461 298h3v3h-3z"/>
<path class="c4" d="M461 262h3v3h-3z"/>
<path class="c1" d="M462 335h3v3h-3zM463 262h3v3h-3zM465 344h3v3h-3z"/>
<path class="c2" d="M465 338h3v3h-3z"/>
<path class="c1" d="M465 335h3v3h-3zM465 226h3v3h-3zM467 344h3v3h-3z"/>
<path class="c6" d="M467 300h3v3h-3z"/>
<path class="c1" d="M467 264h3v3h-3z"/>
<path class="c2" d="M469 335h3v3h-3z"/>
<path class="c1" d="M469 265h3v3h-3z"/>
<path class="c2" d="M469 228h3v3h-3z"/>
<path class="c1" d="M470 344h3v3h-3zM472 344h3v3h-3z"/>
<path class="c2" d="M472 300h3v3h-3z"/>
<path class="c3" d="M472 263h3v3h-3z"/>
<path class="c1" d="M472 226h3v3h-3zM473 344h3v3h-3zM474 299h3v3h-3zM475 344h3v3h-3z"/>
<path class="c2" d="M476 335h3v3h-3z"/>
<path class="c1" d="M477 298h3v3h-3z"/>
<path class="c2" d="M480 344h3v3h-3z"/>
<path class="c1" d="M480 335h3v3h-3z"/>
<path class="c4" d="M480 299h3v3h-3z"/>
<path class="c1" d="M482 344h3v3h-3z"/>
<path class="c5" d="M482 300h3v3h-3z"/>
<path class="c2" d="M482 264h3v3h-3z"/>
<path class="c1" d="M484 302h3v3h-3z"/>
<path class="c3" d="M484 300h3v3h-3zM484 265h3v3h-3z"/>
<path class="c2" d="M486 344h3v3h-3z"/>
<path class="c1" d="M486 336h3v3h-3z"/>
<path class="c2" d="M486 265h3v3h-3z"/>
<path class="c1" d="M488 344h3v3h-3z"/>
<path class="c2" d="M488 336h3v3h-3z"/>
<path class="c6" d="M488 301h3v3h-3z"/>
<path class="c1" d="M490 344h3v3h-3zM490 336h3v3h-3z"/>
<path class="c2" d="M492 344h3v3h-3z"/>
<path class="c1" d="M494 344h3v3h-3zM494 336h3v3h-3z"/>
<path class="c2" d="M496 344h3v3h-3zM496 337h3v3h-3z"/>
<path class="c7" d="M498 337h3v3h-3z"/>
<path class="c1" d="M498 304h3v3h-3z"/>
<path class="c2" d="M498 302h3v3h-3z"/>
<path class="c1" d="M499 344h3v3h-3z"/>
<path class="c7" d="M500 261h3v3h-3z"/>
<path class="c4" d="M500 259h3v3h-3z"/>
<path class="c1" d="M500 152h3v3h-3z"/>
<path class="c4" d="M500 82h3v3h-3z"/>
<path class="c2" d="M501 344h3v3h-3z"/>
<path class="c1" d="M502 344h3v3h-3z"/>
<path class="c2" d="M502 299h3v3h-3z"/>
<path class="c1" d="M502 297h3v3h-3zM502 261h3v3h-3z"/>
<path class="c2" d="M502 226h3v3h-3zM502 224h3v3h-3zM502 190h3v3h-3zM502 188h3v3h-3z"/>
<path class="c1" d="M502 79h3v3h-3z"/>
<path class="c2" d="M504 344h3v3h-3zM504 298h3v3h-3zM504 261h3v3h-3zM506 297h3v3h-3z"/>
<path class="c1" d="M507 344h3v3h-3z"/>
<path class="c7" d="M507 301h3v3h-3z"/>
<path class="c1" d="M507 300h3v3h-3z"/>
<path class="c5" d="M507 226h3v3h-3z"/>
<path class="c1" d="M507 150h3v3h-3zM509 344h3v3h-3zM509 298h3v3h-3z"/>
<path class="c2" d="M509 296h3v3h-3zM509 256h3v3h-3z"/>
<path class="c1" d="M509 150h3v3h-3z"/>
<path class="c2" d="M509 147h3v3h-3z"/>
<path class="c1" d="M509 73h3v3h-3z"/>
<path class="c2" d="M510 344h3v3h-3z"/>
<path class="c3" d="M511 297h3v3h-3z"/>
<path class="c1" d="M511 252h3v3h-3zM511 180h3v3h-3zM511 106h3v3h-3zM512 344h3v3h-3z"/>
<path class="c5" d="M513 297h3v3h-3z"/>
<path class="c2" d="M513 220h3v3h-3zM515 344h3v3h-3z"/>
<path class="c5" d="M515 295h3v3h-3z"/>
<path class="c1" d="M515 291h3v3h-3z"/>
<path class="c5" d="M515 246h3v3h-3z"/>
<path class="c3" d="M515 244h3v3h-3z"/>
<path class="c1" d="M515 215h3v3h-3z"/>
<path class="c3" d="M515 138h3v3h-3z"/>
<path class="c2" d="M517 344h3v3h-3z"/>
<path class="c6" d="M517 288h3v3h-3z"/>
<path class="c2" d="M517 242h3v3h-3zM517 240h3v3h-3zM517 238h3v3h-3z"/>
<path class="c1" d="M517 233h3v3h-3zM517 204h3v3h-3z"/>
<path class="c3" d="M517 201h3v3h-3z"/>
<path class="c2" d="M517 122h3v3h-3z"/>
<path class="c1" d="M517 120h3v3h-3z"/>
<path class="c2" d="M517 117h3v3h-3zM519 344h3v3h-3z"/>
<path class="c5" d="M519 288h3v3h-3z"/>
<path class="c6" d="M519 286h3v3h-3z"/>
<path class="c1" d="M519 285h3v3h-3zM519 235h3v3h-3z"/>
<path class="c2" d="M519 232h3v3h-3z"/>
<path class="c1" d="M519 226h3v3h-3zM519 200h3v3h-3zM519 197h3v3h-3z"/>
<path class="c5" d="M519 109h3v3h-3z"/>
<path class="c1" d="M519 106h3v3h-3zM521 344h3v3h-3z"/>
<path class="c3" d="M521 287h3v3h-3z"/>
<path class="c1" d="M521 228h3v3h-3zM521 220h3v3h-3zM521 106h3v3h-3zM523 344h3v3h-3z"/>
<path class="c4" d="M523 290h3v3h-3z"/>
<path class="c1" d="M523 220h3v3h-3z"/>
<path class="c2" d="M525 344h3v3h-3zM525 205h3v3h-3z"/>
<path class="c1" d="M527 344h3v3h-3zM527 202h3v3h-3z"/>
<path class="c3" d="M527 196h3v3h-3z"/>
<path class="c6" d="M529 275h3v3h-3z"/>
<path class="c1" d="M529 188h3v3h-3z"/>
<path class="c2" d="M529 184h3v3h-3z"/>
<path class="c3" d="M529 180h3v3h-3z"/>
<path class="c1" d="M530 342h3v3h-3zM530 341h3v3h-3zM530 340h3v3h-3z"/>
<path class="c7" d="M531 274h3v3h-3z"/>
<path class="c6" d="M531 271h3v3h-3z"/>
<path class="c1" d="M531 267h3v3h-3zM531 177h3v3h-3z"/>
<path class="c6" d="M533 272h3v3h-3z"/>
<path class="c5" d="M533 270h3v3h-3z"/>
<path class="c1" d="M533 172h3v3h-3zM533 170h3v3h-3zM537 344h3v3h-3z"/>
<path class="c2" d="M537 261h3v3h-3zM537 161h3v3h-3zM537 158h3v3h-3zM539 158h3v3h-3z"/>
<path class="c5" d="M539 156h3v3h-3z"/>
<path class="c3" d="M539 152h3v3h-3z"/>
<path class="c2" d="M539 56h3v3h-3z"/>
<path class="c1" d="M540 344h3v3h-3z"/>
<path class="c4" d="M541 260h3v3h-3z"/>
<path class="c1" d="M541 156h3v3h-3zM542 344h3v3h-3zM542 262h3v3h-3zM542 52h3v3h-3zM543 156h3v3h-3z"/>
<path class="c2" d="M544 344h3v3h-3z"/>
<path class="c1" d="M544 262h3v3h-3z"/>
<path class="c3" d="M544 160h3v3h-3z"/>
<path class="c1" d="M544 156h3v3h-3z"/>
<path class="c2" d="M546 270h3v3h-3z"/>
<path class="c1" d="M546 266h3v3h-3zM546 165h3v3h-3zM546 164h3v3h-3z"/>
<path class="c3" d="M548 344h3v3h-3z"/>
<path class="c1" d="M548 268h3v3h-3z"/>
<path class="c6" d="M548 171h3v3h-3z"/>
<path class="c1" d="M550 275h3v3h-3zM550 270h3v3h-3z"/>
<path class="c6" d="M550 175h3v3h-3z"/>
<path class="c1" d="M550 78h3v3h-3z"/>
<path class="c2" d="M550 76h3v3h-3z"/>
<path class="c1" d="M552 181h3v3h-3z"/>
<path class="c2" d="M552 176h3v3h-3zM552 84h3v3h-3zM552 82h3v3h-3z"/>
<path class="c1" d="M554 344h3v3h-3z"/>
<path class="c4" d="M554 275h3v3h-3z"/>
<path class="c7" d="M554 272h3v3h-3zM554 268h3v3h-3z"/>
<path class="c2" d="M556 271h3v3h-3z"/>
<path class="c7" d="M556 268h3v3h-3z"/>
<path class="c2" d="M556 170h3v3h-3z"/>
<path class="c6" d="M558 264h3v3h-3z"/>
<path class="c1" d="M558 261h3v3h-3zM558 162h3v3h-3z"/>
<path class="c2" d="M558 69h3v3h-3z"/>
<path class="c1" d="M560 344h3v3h-3z"/>
<path class="c5" d="M560 266h3v3h-3z"/>
<path class="c1" d="M560 264h3v3h-3zM560 161h3v3h-3zM562 344h3v3h-3z"/>
<path class="c7" d="M562 267h3v3h-3z"/>
<path class="c1" d="M562 265h3v3h-3z"/>
<path class="c2" d="M562 164h3v3h-3z"/>
<path class="c3" d="M562 160h3v3h-3z"/>
<path class="c1" d="M562 60h3v3h-3z"/>
<path class="c6" d="M564 265h3v3h-3z"/>
<path class="c1" d="M564 263h3v3h-3z"/>
<path class="c4" d="M564 163h3v3h-3z"/>
<path class="c3" d="M564 160h3v3h-3z"/>
<path class="c1" d="M564 62h3v3h-3zM566 344h3v3h-3z"/>
<path class="c5" d="M566 266h3v3h-3z"/>
<path class="c1" d="M566 264h3v3h-3z"/>
<path class="c3" d="M566 161h3v3h-3z"/>
<path class="c1" d="M566 156h3v3h-3zM566 63h3v3h-3z"/>
<path class="c2" d="M568 344h3v3h-3z"/>
<path class="c3" d="M568 165h3v3h-3z"/>
<path class="c1" d="M568 161h3v3h-3zM568 60h3v3h-3z"/>
<path class="c3" d="M570 336h3v3h-3zM570 168h3v3h-3z"/>
<path class="c4" d="M570 166h3v3h-3z"/>
<path class="c2" d="M570 64h3v3h-3z"/>
<path class="c3" d="M570 59h3v3h-3zM572 334h3v3h-3z"/>
<path class="c2" d="M572 331h3v3h-3zM572 269h3v3h-3z"/>
<path class="c1" d="M572 172h3v3h-3z"/>
<path class="c2" d="M572 170h3v3h-3z"/>
<path class="c4" d="M572 166h3v3h-3z"/>
<path class="c1" d="M572 69h3v3h-3z"/>
<path class="c5" d="M572 66h3v3h-3z"/>
<path class="c2" d="M574 344h3v3h-3z"/>
<path class="c1" d="M574 325h3v3h-3z"/>
<path class="c7" d="M574 270h3v3h-3z"/>
<path class="c1" d="M574 267h3v3h-3zM574 171h3v3h-3z"/>
<path class="c5" d="M574 168h3v3h-3z"/>
<path class="c4" d="M574 165h3v3h-3z"/>
<path class="c5" d="M576 267h3v3h-3z"/>
<path class="c1" d="M576 265h3v3h-3zM577 167h3v3h-3zM577 162h3v3h-3z"/>
<path class="c3" d="M578 264h3v3h-3z"/>
<path class="c2" d="M579 344h3v3h-3z"/>
<path class="c1" d="M579 261h3v3h-3zM579 160h3v3h-3z"/>
<path class="c3" d="M579 156h3v3h-3z"/>
<path class="c1" d="M581 344h3v3h-3z"/>
<path class="c5" d="M581 264h3v3h-3z"/>
<path class="c1" d="M581 261h3v3h-3zM581 155h3v3h-3z"/>
<path class="c2" d="M581 152h3v3h-3z"/>
<path class="c4" d="M583 262h3v3h-3z"/>
<path class="c1" d="M583 158h3v3h-3zM583 156h3v3h-3zM583 54h3v3h-3z"/>
<path class="c2" d="M583 50h3v3h-3zM585 344h3v3h-3z"/>
<path class="c4" d="M585 266h3v3h-3z"/>
<path class="c1" d="M585 188h3v3h-3z"/>
<path class="c6" d="M585 165h3v3h-3z"/>
<path class="c1" d="M585 161h3v3h-3z"/>
<path class="c3" d="M585 62h3v3h-3z"/>
<path class="c2" d="M585 60h3v3h-3z"/>
<path class="c3" d="M585 56h3v3h-3z"/>
<path class="c1" d="M587 268h3v3h-3z"/>
<path class="c2" d="M587 170h3v3h-3z"/>
<path class="c3" d="M587 168h3v3h-3zM587 67h3v3h-3z"/>
<path class="c2" d="M587 64h3v3h-3z"/>
<path class="c5" d="M588 68h3v3h-3z"/>
<path class="c6" d="M589 270h3v3h-3zM589 174h3v3h-3z"/>
<path class="c1" d="M589 170h3v3h-3z"/>
<path class="c2" d="M589 70h3v3h-3z"/>
<path class="c3" d="M591 270h3v3h-3z"/>
<path class="c1" d="M591 174h3v3h-3zM591 170h3v3h-3z"/>
<path class="c3" d="M591 74h3v3h-3z"/>
<path class="c1" d="M593 344h3v3h-3z"/>
<path class="c2" d="M593 270h3v3h-3z"/>
<path class="c3" d="M593 175h3v3h-3z"/>
<path class="c2" d="M593 171h3v3h-3z"/>
<path class="c1" d="M593 70h3v3h-3z"/>
<path class="c7" d="M595 272h3v3h-3z"/>
<path class="c1" d="M595 269h3v3h-3z"/>
<path class="c3" d="M595 170h3v3h-3z"/>
<path class="c1" d="M595 69h3v3h-3zM596 344h3v3h-3z"/>
<path class="c3" d="M597 270h3v3h-3z"/>
<path class="c1" d="M597 268h3v3h-3zM597 68h3v3h-3z"/>
<path class="c3" d="M599 344h3v3h-3z"/>
<path class="c7" d="M599 274h3v3h-3z"/>
<path class="c2" d="M599 271h3v3h-3z"/>
<path class="c1" d="M599 169h3v3h-3zM601 344h3v3h-3zM601 271h3v3h-3z"/>
<path class="c4" d="M601 269h3v3h-3z"/>
<path class="c3" d="M601 168h3v3h-3zM603 344h3v3h-3z"/>
<path class="c2" d="M603 272h3v3h-3z"/>
<path class="c1" d="M603 268h3v3h-3z"/>
<path class="c2" d="M603 170h3v3h-3z"/>
<path class="c1" d="M603 169h3v3h-3zM604 344h3v3h-3zM605 270h3v3h-3z"/>
<path class="c2" d="M605 174h3v3h-3z"/>
<path class="c3" d="M605 170h3v3h-3z"/>
<path class="c1" d="M605 76h3v3h-3z"/>
<path class="c3" d="M605 72h3v3h-3z"/>
<path class="c1" d="M605 69h3v3h-3z"/>
<path class="c4" d="M607 274h3v3h-3z"/>
<path class="c2" d="M607 180h3v3h-3z"/>
<path class="c1" d="M607 177h3v3h-3zM607 87h3v3h-3zM609 344h3v3h-3zM609 280h3v3h-3z"/>
<path class="c7" d="M609 278h3v3h-3z"/>
<path class="c1" d="M609 276h3v3h-3z"/>
<path class="c2" d="M609 184h3v3h-3z"/>
<path class="c1" d="M609 91h3v3h-3z"/>
<path class="c2" d="M611 278h3v3h-3z"/>
<path class="c1" d="M611 185h3v3h-3z"/>
<path class="c2" d="M612 344h3v3h-3z"/>
<path class="c4" d="M612 187h3v3h-3z"/>
<path class="c1" d="M612 92h3v3h-3zM613 280h3v3h-3z"/>
<path class="c3" d="M614 276h3v3h-3z"/>
<path class="c4" d="M614 187h3v3h-3z"/>
<path class="c1" d="M614 184h3v3h-3z"/>
<path class="c7" d="M615 280h3v3h-3z"/>
<path class="c3" d="M616 187h3v3h-3z"/>
<path class="c1" d="M616 93h3v3h-3zM617 276h3v3h-3z"/>
<path class="c2" d="M618 278h3v3h-3z"/>
<path class="c1" d="M618 184h3v3h-3z"/>
<path class="c2" d="M618 97h3v3h-3z"/>
<path class="c1" d="M618 95h3v3h-3z"/>
<path class="c4" d="M620 282h3v3h-3z"/>
<path class="c1" d="M620 280h3v3h-3zM620 276h3v3h-3z"/>
<path class="c3" d="M620 188h3v3h-3z"/>
<path class="c2" d="M620 95h3v3h-3z"/>
<path class="c1" d="M622 344h3v3h-3z"/>
<path class="c5" d="M622 282h3v3h-3z"/>
<path class="c2" d="M622 280h3v3h-3z"/>
<path class="c1" d="M622 96h3v3h-3zM624 344h3v3h-3zM624 283h3v3h-3z"/>
<path class="c2" d="M624 279h3v3h-3z"/>
<path class="c1" d="M624 192h3v3h-3z"/>
<path class="c3" d="M624 189h3v3h-3z"/>
<path class="c1" d="M624 100h3v3h-3zM624 95h3v3h-3z"/>
<path class="c3" d="M626 282h3v3h-3z"/>
<path class="c2" d="M626 280h3v3h-3z"/>
<path class="c6" d="M626 190h3v3h-3z"/>
<path class="c3" d="M626 186h3v3h-3z"/>
<path class="c2" d="M626 97h3v3h-3z"/>
<path class="c3" d="M626 94h3v3h-3z"/>
<path class="c2" d="M628 278h3v3h-3z"/>
<path class="c1" d="M628 275h3v3h-3zM628 185h3v3h-3z"/>
<path class="c5" d="M628 182h3v3h-3z"/>
<path class="c1" d="M628 173h3v3h-3z"/>
<path class="c5" d="M628 92h3v3h-3z"/>
<path class="c6" d="M628 90h3v3h-3z"/>
<path class="c5" d="M628 87h3v3h-3z"/>
<path class="c1" d="M628 84h3v3h-3z"/>
<path class="c7" d="M630 279h3v3h-3z"/>
<path class="c3" d="M630 276h3v3h-3z"/>
<path class="c6" d="M630 181h3v3h-3z"/>
<path class="c2" d="M630 178h3v3h-3z"/>
<path class="c1" d="M630 87h3v3h-3z"/>
<path class="c2" d="M632 276h3v3h-3z"/>
<path class="c1" d="M632 272h3v3h-3zM632 180h3v3h-3z"/>
<path class="c6" d="M632 177h3v3h-3z"/>
<path class="c1" d="M632 84h3v3h-3z"/>
<path class="c3" d="M632 80h3v3h-3z"/>
<path class="c2" d="M632 80h3v3h-3z"/>
<path class="c1" d="M634 344h3v3h-3z"/>
<path class="c7" d="M634 275h3v3h-3z"/>
<path class="c1" d="M634 271h3v3h-3zM634 178h3v3h-3z"/>
<path class="c4" d="M634 175h3v3h-3z"/>
<path class="c2" d="M634 81h3v3h-3z"/>
<path class="c5" d="M634 78h3v3h-3z"/>
<path class="c4" d="M634 77h3v3h-3z"/>
<path class="c3" d="M634 76h3v3h-3z"/>
<path class="c1" d="M635 81h3v3h-3z"/>
<path class="c2" d="M635 77h3v3h-3z"/>
<path class="c1" d="M636 272h3v3h-3zM636 270h3v3h-3z"/>
<path class="c4" d="M636 175h3v3h-3z"/>
<path class="c1" d="M636 171h3v3h-3z"/>
<path class="c3" d="M636 76h3v3h-3z"/>
<path class="c1" d="M636 74h3v3h-3z"/>
<path class="c2" d="M637 78h3v3h-3z"/>
<path class="c4" d="M637 75h3v3h-3z"/>
<path class="c3" d="M637 74h3v3h-3z"/>
<path class="c1" d="M638 65h3v3h-3zM639 74h3v3h-3zM640 344h3v3h-3zM640 274h3v3h-3zM640 270h3v3h-3zM640 178h3v3h-3z"/>
<path class="c5" d="M640 176h3v3h-3z"/>
<path class="c6" d="M640 77h3v3h-3z"/>
<path class="c1" d="M640 56h3v3h-3zM641 78h3v3h-3z"/>
<path class="c2" d="M641 75h3v3h-3z"/>
<path class="c3" d="M642 276h3v3h-3z"/>
<path class="c1" d="M642 80h3v3h-3z"/>
<path class="c3" d="M642 77h3v3h-3z"/>
<path class="c1" d="M642 54h3v3h-3z"/>
<path class="c2" d="M643 80h3v3h-3z"/>
<path class="c1" d="M643 76h3v3h-3z"/>
<path class="c2" d="M644 275h3v3h-3z"/>
<path class="c1" d="M644 271h3v3h-3zM644 180h3v3h-3z"/>
<path class="c4" d="M644 176h3v3h-3z"/>
<path class="c1" d="M644 82h3v3h-3z"/>
<path class="c2" d="M644 78h3v3h-3zM644 75h3v3h-3z"/>
<path class="c1" d="M645 82h3v3h-3zM645 78h3v3h-3z"/>
<path class="c5" d="M647 276h3v3h-3z"/>
<path class="c2" d="M647 81h3v3h-3z"/>
<path class="c1" d="M647 80h3v3h-3zM647 75h3v3h-3zM649 344h3v3h-3zM649 68h3v3h-3z"/>
<path class="c4" d="M650 274h3v3h-3z"/>
<path class="c7" d="M650 179h3v3h-3z"/>
<path class="c4" d="M650 176h3v3h-3z"/>
<path class="c1" d="M651 80h3v3h-3z"/>
<path class="c2" d="M651 80h3v3h-3z"/>
<path class="c7" d="M652 277h3v3h-3z"/>
<path class="c1" d="M652 272h3v3h-3zM652 182h3v3h-3z"/>
<path class="c5" d="M652 178h3v3h-3z"/>
<path class="c1" d="M653 344h3v3h-3z"/>
<path class="c5" d="M653 84h3v3h-3z"/>
<path class="c2" d="M653 81h3v3h-3z"/>
<path class="c1" d="M654 278h3v3h-3z"/>
<path class="c3" d="M654 274h3v3h-3z"/>
<path class="c2" d="M654 184h3v3h-3z"/>
<path class="c1" d="M654 182h3v3h-3z"/>
<path class="c3" d="M655 344h3v3h-3z"/>
<path class="c6" d="M655 90h3v3h-3zM655 90h3v3h-3z"/>
<path class="c1" d="M655 87h3v3h-3z"/>
<path class="c2" d="M655 87h3v3h-3zM655 82h3v3h-3z"/>
<path class="c3" d="M655 77h3v3h-3z"/>
<path class="c4" d="M656 280h3v3h-3z"/>
<path class="c7" d="M656 277h3v3h-3z"/>
<path class="c1" d="M656 275h3v3h-3z"/>
<path class="c7" d="M656 186h3v3h-3z"/>
<path class="c2" d="M656 183h3v3h-3zM656 85h3v3h-3z"/>
<path class="c4" d="M656 80h3v3h-3z"/>
<path class="c5" d="M657 92h3v3h-3z"/>
<path class="c2" d="M657 88h3v3h-3z"/>
<path class="c1" d="M658 277h3v3h-3zM658 186h3v3h-3zM658 182h3v3h-3z"/>
<path class="c6" d="M658 95h3v3h-3z"/>
<path class="c4" d="M658 92h3v3h-3z"/>
<path class="c6" d="M658 91h3v3h-3z"/>
<path class="c2" d="M658 86h3v3h-3z"/>
<path class="c1" d="M658 82h3v3h-3z"/>
<path class="c2" d="M660 280h3v3h-3z"/>
<path class="c5" d="M660 278h3v3h-3z"/>
<path class="c1" d="M660 190h3v3h-3z"/>
<path class="c7" d="M660 187h3v3h-3z"/>
<path class="c5" d="M660 96h3v3h-3z"/>
<path class="c3" d="M660 93h3v3h-3z"/>
<path class="c1" d="M660 88h3v3h-3zM660 87h3v3h-3zM660 84h3v3h-3zM660 82h3v3h-3zM661 321h3v3h-3z"/>
<path class="c6" d="M661 96h3v3h-3z"/>
<path class="c1" d="M661 85h3v3h-3zM661 46h3v3h-3z"/>
<path class="c5" d="M662 192h3v3h-3z"/>
<path class="c3" d="M662 188h3v3h-3z"/>
<path class="c1" d="M662 185h3v3h-3z"/>
<path class="c6" d="M662 101h3v3h-3z"/>
<path class="c1" d="M663 278h3v3h-3zM663 275h3v3h-3z"/>
<path class="c3" d="M663 98h3v3h-3zM663 97h3v3h-3z"/>
<path class="c1" d="M663 92h3v3h-3z"/>
<path class="c2" d="M664 191h3v3h-3z"/>
<path class="c5" d="M664 188h3v3h-3z"/>
<path class="c2" d="M665 281h3v3h-3z"/>
<path class="c1" d="M665 266h3v3h-3z"/>
<path class="c5" d="M665 106h3v3h-3z"/>
<path class="c4" d="M665 102h3v3h-3z"/>
<path class="c3" d="M665 102h3v3h-3z"/>
<path class="c2" d="M665 98h3v3h-3z"/>
<path class="c7" d="M666 194h3v3h-3z"/>
<path class="c1" d="M666 191h3v3h-3z"/>
<path class="c5" d="M666 106h3v3h-3zM666 105h3v3h-3z"/>
<path class="c1" d="M666 95h3v3h-3z"/>
<path class="c7" d="M668 284h3v3h-3z"/>
<path class="c1" d="M668 280h3v3h-3zM668 198h3v3h-3z"/>
<path class="c5" d="M668 196h3v3h-3z"/>
<path class="c1" d="M668 192h3v3h-3zM668 110h3v3h-3z"/>
<path class="c2" d="M668 107h3v3h-3zM668 98h3v3h-3z"/>
<path class="c1" d="M668 96h3v3h-3zM668 95h3v3h-3zM669 344h3v3h-3z"/>
<path class="c2" d="M670 286h3v3h-3zM670 281h3v3h-3z"/>
<path class="c1" d="M670 278h3v3h-3zM670 201h3v3h-3z"/>
<path class="c3" d="M670 195h3v3h-3z"/>
<path class="c1" d="M670 191h3v3h-3zM670 187h3v3h-3z"/>
<path class="c3" d="M670 110h3v3h-3z"/>
<path class="c1" d="M670 105h3v3h-3z"/>
<path class="c2" d="M670 102h3v3h-3z"/>
<path class="c1" d="M670 97h3v3h-3zM670 97h3v3h-3zM671 174h3v3h-3zM671 100h3v3h-3zM672 344h3v3h-3z"/>
<path class="c5" d="M672 284h3v3h-3z"/>
<path class="c3" d="M672 282h3v3h-3z"/>
<path class="c1" d="M672 280h3v3h-3zM672 196h3v3h-3z"/>
<path class="c2" d="M672 192h3v3h-3z"/>
<path class="c1" d="M672 187h3v3h-3z"/>
<path class="c2" d="M672 105h3v3h-3zM672 102h3v3h-3z"/>
<path class="c1" d="M672 101h3v3h-3z"/>
<path class="c7" d="M81 338h3v3h-3zM84 338h3v3h-3zM86 338h3v3h-3z"/>
<path class="c6" d="M86 336h3v3h-3z"/>
<path class="c7" d="M88 338h3v3h-3z"/>
<path class="c6" d="M88 336h3v3h-3z"/>
<path class="c7" d="M90 338h3v3h-3zM91 339h3v3h-3zM93 339h3v3h-3z"/>
<path class="c6" d="M94 336h3v3h-3z"/>
<path class="c7" d="M95 339h3v3h-3z"/>
<path class="c6" d="M96 336h3v3h-3zM97 339h3v3h-3zM99 338h3v3h-3z"/>
<path class="c7" d="M101 338h3v3h-3z"/>
<path class="c6" d="M101 306h3v3h-3z"/>
<path class="c7" d="M102 339h3v3h-3zM103 260h3v3h-3z"/>
<path class="c6" d="M104 256h3v3h-3z"/>
<path class="c7" d="M105 260h3v3h-3z"/>
<path class="c6" d="M107 260h3v3h-3zM108 254h3v3h-3zM110 248h3v3h-3z"/>
<path class="c7" d="M112 257h3v3h-3zM114 257h3v3h-3z"/>
<path class="c6" d="M114 244h3v3h-3zM114 240h3v3h-3z"/>
<path class="c7" d="M115 244h3v3h-3zM115 242h3v3h-3zM116 257h3v3h-3z"/>
<path class="c6" d="M117 341h3v3h-3z"/>
<path class="c7" d="M120 339h3v3h-3zM122 339h3v3h-3zM123 339h3v3h-3z"/>
<path class="c6" d="M126 341h3v3h-3zM126 307h3v3h-3zM126 254h3v3h-3zM126 254h3v3h-3z"/>
<path class="c7" d="M128 253h3v3h-3z"/>
<path class="c6" d="M128 248h3v3h-3z"/>
<path class="c7" d="M130 252h3v3h-3z"/>
<path class="c6" d="M130 246h3v3h-3zM130 246h3v3h-3z"/>
<path class="c7" d="M131 251h3v3h-3z"/>
<path class="c6" d="M132 254h3v3h-3zM134 244h3v3h-3zM137 235h3v3h-3zM144 224h3v3h-3z"/>
<path class="c7" d="M144 222h3v3h-3zM144 221h3v3h-3zM144 220h3v3h-3zM144 220h3v3h-3z"/>
<path class="c6" d="M160 233h3v3h-3z"/>
<path class="c7" d="M170 234h3v3h-3zM170 233h3v3h-3zM170 232h3v3h-3zM170 230h3v3h-3zM172 236h3v3h-3zM178 335h3v3h-3zM180 335h3v3h-3zM180 333h3v3h-3zM182 335h3v3h-3zM183 333h3v3h-3zM185 335h3v3h-3zM185 333h3v3h-3zM187 333h3v3h-3z"/>
<path class="c6" d="M188 250h3v3h-3z"/>
<path class="c7" d="M191 331h3v3h-3zM194 254h3v3h-3zM194 253h3v3h-3zM194 251h3v3h-3zM194 249h3v3h-3z"/>
<path class="c6" d="M194 246h3v3h-3zM194 244h3v3h-3z"/>
<path class="c7" d="M195 253h3v3h-3zM195 251h3v3h-3z"/>
<path class="c6" d="M200 252h3v3h-3z"/>
<path class="c7" d="M204 255h3v3h-3zM204 254h3v3h-3zM204 252h3v3h-3zM205 253h3v3h-3z"/>
<path class="c6" d="M207 248h3v3h-3zM212 256h3v3h-3zM214 240h3v3h-3zM235 244h3v3h-3zM235 242h3v3h-3zM237 268h3v3h-3z"/>
<path class="c7" d="M237 263h3v3h-3zM237 260h3v3h-3z"/>
<path class="c6" d="M237 257h3v3h-3zM239 275h3v3h-3z"/>
<path class="c7" d="M239 271h3v3h-3zM243 285h3v3h-3zM245 208h3v3h-3zM247 292h3v3h-3z"/>
<path class="c6" d="M247 217h3v3h-3z"/>
<path class="c7" d="M250 302h3v3h-3zM252 301h3v3h-3zM255 299h3v3h-3zM256 298h3v3h-3z"/>
<path class="c6" d="M258 297h3v3h-3z"/>
<path class="c7" d="M259 207h3v3h-3zM264 315h3v3h-3zM265 307h3v3h-3zM270 315h3v3h-3zM270 313h3v3h-3z"/>
<rect x="81" y="348" width="3" height="1" class="c1" opacity="0.85"/>
<rect x="84" y="348" width="3" height="1" class="c1" opacity="0.85"/>
<rect x="86" y="348" width="3" height="1" class="c1" opacity="0.85"/>
<rect x="87" y="348" width="3" height="1" class="c1" opacity="0.85"/>
<rect x="88" y="348" width="3" height="1" class="c1" opacity="0.85"/>
<rect x="90" y="348" width="3" height="1" class="c1" opacity="0.85"/>
<rect x="91" y="348" width="3" height="1" class="c2" opacity="0.85"/>
<rect x="92" y="348" width="3" height="1" class="c2" opacity="0.85"/>
<rect x="93" y="348" width="3" height="1" class="c2" opacity="0.85"/>
<rect x="94" y="348" width="3" height="1" class="c1" opacity="0.85"/>
<rect x="97" y="348" width="3" height="1" class="c1" opacity="0.85"/>
<rect x="98" y="348" width="3" height="1" class="c1" opacity="0.85"/>
<rect x="100" y="348" width="3" height="1" class="c1" opacity="0.85"/>
<rect x="120" y="348" width="3" height="1" class="c1" opacity="0.85"/>
<rect x="124" y="348" width="3" height="1" class="c1" opacity="0.85"/>
<rect x="124" y="348" width="3" height="1" class="c1" opacity="0.85"/>
<rect x="126" y="348" width="3" height="1" class="c1" opacity="0.85"/>
<rect x="136" y="348" width="3" height="1" class="c1" opacity="0.85"/>
<rect x="138" y="348" width="3" height="1" class="c1" opacity="0.85"/>
<rect x="144" y="348" width="3" height="1" class="c1" opacity="0.85"/>
<rect x="144" y="348" width="3" height="1" class="c1" opacity="0.85"/>
<rect x="144" y="348" width="3" height="1" class="c1" opacity="0.85"/>
<rect x="164" y="348" width="3" height="1" class="c1" opacity="0.85"/>
<rect x="165" y="348" width="3" height="1" class="c1" opacity="0.85"/>
<rect x="167" y="348" width="3" height="1" class="c2" opacity="0.85"/>
<rect x="168" y="348" width="3" height="1" class="c1" opacity="0.85"/>
<rect x="169" y="348" width="3" height="1" class="c1" opacity="0.85"/>
<rect x="169" y="348" width="3" height="1" class="c2" opacity="0.85"/>
<rect x="171" y="348" width="3" height="1" class="c1" opacity="0.85"/>
<rect x="175" y="348" width="3" height="1" class="c2" opacity="0.85"/>
<rect x="175" y="348" width="3" height="1" class="c1" opacity="0.85"/>
<rect x="180" y="348" width="3" height="1" class="c1" opacity="0.85"/>
<rect x="194" y="348" width="3" height="1" class="c2" opacity="0.85"/>
<rect x="197" y="348" width="3" height="1" class="c1" opacity="0.85"/>
<rect x="198" y="348" width="3" height="1" class="c1" opacity="0.85"/>
<rect x="200" y="348" width="3" height="1" class="c1" opacity="0.85"/>
<rect x="204" y="348" width="3" height="1" class="c1" opacity="0.85"/>
<rect x="206" y="348" width="3" height="1" class="c1" opacity="0.85"/>
<rect x="207" y="348" width="3" height="1" class="c1" opacity="0.85"/>
<rect x="210" y="348" width="3" height="1" class="c4" opacity="0.85"/>
<rect x="210" y="348" width="3" height="1" class="c4" opacity="0.85"/>
<rect x="212" y="348" width="3" height="1" class="c1" opacity="0.85"/>
<rect x="214" y="348" width="3" height="1" class="c1" opacity="0.85"/>
<rect x="225" y="348" width="3" height="1" class="c2" opacity="0.85"/>
<rect x="228" y="348" width="3" height="1" class="c1" opacity="0.85"/>
<rect x="229" y="348" width="3" height="1" class="c2" opacity="0.85"/>
<rect x="233" y="348" width="3" height="1" class="c1" opacity="0.85"/>
<rect x="237" y="348" width="3" height="1" class="c2" opacity="0.85"/>
<rect x="237" y="348" width="3" height="1" class="c2" opacity="0.85"/>
<rect x="240" y="348" width="3" height="1" class="c2" opacity="0.85"/>
<rect x="241" y="348" width="3" height="1" class="c1" opacity="0.85"/>
<rect x="241" y="348" width="3" height="1" class="c1" opacity="0.85"/>
<rect x="243" y="348" width="3" height="1" class="c2" opacity="0.85"/>
<rect x="245" y="348" width="3" height="1" class="c1" opacity="0.85"/>
<rect x="247" y="348" width="3" height="1" class="c2" opacity="0.85"/>
<rect x="249" y="348" width="3" height="1" class="c2" opacity="0.85"/>
<rect x="251" y="348" width="3" height="1" class="c1" opacity="0.85"/>
<rect x="252" y="348" width="3" height="1" class="c1" opacity="0.85"/>
<rect x="253" y="348" width="3" height="1" class="c1" opacity="0.85"/>
<rect x="254" y="348" width="3" height="1" class="c2" opacity="0.85"/>
<rect x="255" y="348" width="3" height="1" class="c2" opacity="0.85"/>
<rect x="257" y="348" width="3" height="1" class="c1" opacity="0.85"/>
<rect x="258" y="348" width="3" height="1" class="c1" opacity="0.85"/>
<rect x="260" y="348" width="3" height="1" class="c1" opacity="0.85"/>
<rect x="264" y="348" width="3" height="1" class="c2" opacity="0.85"/>
<rect x="264" y="348" width="3" height="1" class="c1" opacity="0.85"/>
<rect x="267" y="348" width="3" height="1" class="c2" opacity="0.85"/>
<rect x="267" y="348" width="3" height="1" class="c1" opacity="0.85"/>
<rect x="269" y="348" width="3" height="1" class="c1" opacity="0.85"/>
<rect x="269" y="348" width="3" height="1" class="c1" opacity="0.85"/>
<rect x="272" y="348" width="3" height="1" class="c2" opacity="0.85"/>
<rect x="273" y="348" width="3" height="1" class="c1" opacity="0.85"/>
<rect x="274" y="348" width="3" height="1" class="c1" opacity="0.85"/>
<rect x="276" y="348" width="3" height="1" class="c1" opacity="0.85"/>
<rect x="277" y="348" width="3" height="1" class="c1" opacity="0.85"/>
<rect x="284" y="348" width="3" height="1" class="c1" opacity="0.85"/>
<rect x="286" y="348" width="3" height="1" class="c1" opacity="0.85"/>
<rect x="288" y="348" width="3" height="1" class="c2" opacity="0.85"/>
<rect x="290" y="348" width="3" height="1" class="c2" opacity="0.85"/>
<rect x="292" y="348" width="3" height="1" class="c1" opacity="0.85"/>
<rect x="294" y="348" width="3" height="1" class="c1" opacity="0.85"/>
<rect x="296" y="348" width="3" height="1" class="c1" opacity="0.85"/>
<rect x="298" y="348" width="3" height="1" class="c1" opacity="0.85"/>
<rect x="300" y="348" width="3" height="1" class="c2" opacity="0.85"/>
<rect x="307" y="348" width="3" height="1" class="c2" opacity="0.85"/>
<rect x="311" y="348" width="3" height="1" class="c1" opacity="0.85"/>
<rect x="313" y="348" width="3" height="1" class="c2" opacity="0.85"/>
<rect x="315" y="348" width="3" height="1" class="c1" opacity="0.85"/>
<rect x="317" y="348" width="3" height="1" class="c2" opacity="0.85"/>
<rect x="321" y="348" width="3" height="1" class="c1" opacity="0.85"/>
<rect x="323" y="348" width="3" height="1" class="c1" opacity="0.85"/>
<rect x="327" y="348" width="3" height="1" class="c1" opacity="0.85"/>
<rect x="329" y="348" width="3" height="1" class="c1" opacity="0.85"/>
<rect x="332" y="348" width="3" height="1" class="c2" opacity="0.85"/>
<rect x="336" y="348" width="3" height="1" class="c1" opacity="0.85"/>
<rect x="337" y="348" width="3" height="1" class="c1" opacity="0.85"/>
<rect x="341" y="348" width="3" height="1" class="c1" opacity="0.85"/>
<rect x="348" y="348" width="3" height="1" class="c1" opacity="0.85"/>
<rect x="350" y="348" width="3" height="1" class="c2" opacity="0.85"/>
<rect x="352" y="348" width="3" height="1" class="c1" opacity="0.85"/>
<rect x="354" y="348" width="3" height="1" class="c1" opacity="0.85"/>
<rect x="356" y="348" width="3" height="1" class="c1" opacity="0.85"/>
<rect x="358" y="348" width="3" height="1" class="c1" opacity="0.85"/>
<rect x="360" y="348" width="3" height="1" class="c1" opacity="0.85"/>
<rect x="364" y="348" width="3" height="1" class="c2" opacity="0.85"/>
<rect x="366" y="348" width="3" height="1" class="c1" opacity="0.85"/>
<rect x="368" y="348" width="3" height="1" class="c2" opacity="0.85"/>
<rect x="371" y="348" width="3" height="1" class="c2" opacity="0.85"/>
<rect x="372" y="348" width="3" height="1" class="c2" opacity="0.85"/>
<rect x="375" y="348" width="3" height="1" class="c1" opacity="0.85"/>
<rect x="376" y="348" width="3" height="1" class="c1" opacity="0.85"/>
<rect x="384" y="348" width="3" height="1" class="c2" opacity="0.85"/>
<rect x="388" y="348" width="3" height="1" class="c2" opacity="0.85"/>
<rect x="390" y="348" width="3" height="1" class="c1" opacity="0.85"/>
<rect x="392" y="348" width="3" height="1" class="c2" opacity="0.85"/>
<rect x="394" y="348" width="3" height="1" class="c2" opacity="0.85"/>
<rect x="396" y="348" width="3" height="1" class="c1" opacity="0.85"/>
<rect x="404" y="348" width="3" height="1" class="c2" opacity="0.85"/>
<rect x="406" y="348" width="3" height="1" class="c1" opacity="0.85"/>
<rect x="412" y="348" width="3" height="1" class="c1" opacity="0.85"/>
<rect x="414" y="348" width="3" height="1" class="c2" opacity="0.85"/>
<rect x="416" y="348" width="3" height="1" class="c2" opacity="0.85"/>
<rect x="418" y="348" width="3" height="1" class="c1" opacity="0.85"/>
<rect x="420" y="348" width="3" height="1" class="c1" opacity="0.85"/>
<rect x="424" y="348" width="3" height="1" class="c1" opacity="0.85"/>
<rect x="426" y="348" width="3" height="1" class="c1" opacity="0.85"/>
<rect x="431" y="348" width="3" height="1" class="c1" opacity="0.85"/>
<rect x="431" y="348" width="3" height="1" class="c1" opacity="0.85"/>
<rect x="432" y="348" width="3" height="1" class="c1" opacity="0.85"/>
<rect x="434" y="348" width="3" height="1" class="c1" opacity="0.85"/>
<rect x="436" y="348" width="3" height="1" class="c1" opacity="0.85"/>
<rect x="438" y="348" width="3" height="1" class="c2" opacity="0.85"/>
<rect x="438" y="348" width="3" height="1" class="c2" opacity="0.85"/>
<rect x="440" y="348" width="3" height="1" class="c1" opacity="0.85"/>
<rect x="444" y="348" width="3" height="1" class="c1" opacity="0.85"/>
<rect x="447" y="348" width="3" height="1" class="c2" opacity="0.85"/>
<rect x="449" y="348" width="3" height="1" class="c1" opacity="0.85"/>
<rect x="451" y="348" width="3" height="1" class="c2" opacity="0.85"/>
<rect x="453" y="348" width="3" height="1" class="c1" opacity="0.85"/>
<rect x="457" y="348" width="3" height="1" class="c1" opacity="0.85"/>
<rect x="461" y="348" width="3" height="1" class="c1" opacity="0.85"/>
<rect x="467" y="348" width="3" height="1" class="c1" opacity="0.85"/>
<rect x="470" y="348" width="3" height="1" class="c1" opacity="0.85"/>
<rect x="472" y="348" width="3" height="1" class="c1" opacity="0.85"/>
<rect x="473" y="348" width="3" height="1" class="c1" opacity="0.85"/>
<rect x="475" y="348" width="3" height="1" class="c1" opacity="0.85"/>
<rect x="480" y="348" width="3" height="1" class="c2" opacity="0.85"/>
<rect x="486" y="348" width="3" height="1" class="c2" opacity="0.85"/>
<rect x="488" y="348" width="3" height="1" class="c1" opacity="0.85"/>
<rect x="490" y="348" width="3" height="1" class="c1" opacity="0.85"/>
<rect x="492" y="348" width="3" height="1" class="c2" opacity="0.85"/>
<rect x="494" y="348" width="3" height="1" class="c1" opacity="0.85"/>
<rect x="496" y="348" width="3" height="1" class="c2" opacity="0.85"/>
<rect x="501" y="348" width="3" height="1" class="c2" opacity="0.85"/>
<rect x="504" y="348" width="3" height="1" class="c2" opacity="0.85"/>
<rect x="507" y="348" width="3" height="1" class="c1" opacity="0.85"/>
<rect x="509" y="348" width="3" height="1" class="c1" opacity="0.85"/>
<rect x="510" y="348" width="3" height="1" class="c2" opacity="0.85"/>
<rect x="512" y="348" width="3" height="1" class="c1" opacity="0.85"/>
<rect x="515" y="348" width="3" height="1" class="c2" opacity="0.85"/>
<rect x="517" y="348" width="3" height="1" class="c2" opacity="0.85"/>
<rect x="521" y="348" width="3" height="1" class="c1" opacity="0.85"/>
<rect x="523" y="348" width="3" height="1" class="c1" opacity="0.85"/>
<rect x="527" y="348" width="3" height="1" class="c1" opacity="0.85"/>
<rect x="537" y="348" width="3" height="1" class="c1" opacity="0.85"/>
<rect x="540" y="348" width="3" height="1" class="c1" opacity="0.85"/>
<rect x="544" y="348" width="3" height="1" class="c2" opacity="0.85"/>
<rect x="548" y="348" width="3" height="1" class="c3" opacity="0.85"/>
<rect x="554" y="348" width="3" height="1" class="c1" opacity="0.85"/>
<rect x="560" y="348" width="3" height="1" class="c1" opacity="0.85"/>
<rect x="566" y="348" width="3" height="1" class="c1" opacity="0.85"/>
<rect x="568" y="348" width="3" height="1" class="c2" opacity="0.85"/>
<rect x="574" y="348" width="3" height="1" class="c2" opacity="0.85"/>
<rect x="581" y="348" width="3" height="1" class="c1" opacity="0.85"/>
<rect x="593" y="348" width="3" height="1" class="c1" opacity="0.85"/>
<rect x="596" y="348" width="3" height="1" class="c1" opacity="0.85"/>
<rect x="601" y="348" width="3" height="1" class="c1" opacity="0.85"/>
<rect x="603" y="348" width="3" height="1" class="c3" opacity="0.85"/>
<rect x="604" y="348" width="3" height="1" class="c1" opacity="0.85"/>
<rect x="609" y="348" width="3" height="1" class="c1" opacity="0.85"/>
<rect x="612" y="348" width="3" height="1" class="c2" opacity="0.85"/>
<rect x="624" y="348" width="3" height="1" class="c1" opacity="0.85"/>
<rect x="634" y="348" width="3" height="1" class="c1" opacity="0.85"/>
<rect x="640" y="348" width="3" height="1" class="c1" opacity="0.85"/>
<rect x="649" y="348" width="3" height="1" class="c1" opacity="0.85"/>
<rect x="653" y="348" width="3" height="1" class="c1" opacity="0.85"/>
<rect x="655" y="348" width="3" height="1" class="c3" opacity="0.85"/>
<rect x="669" y="348" width="3" height="1" class="c1" opacity="0.85"/>
<rect x="672" y="348" width="3" height="1" class="c1" opacity="0.85"/>
<rect x="82" y="45" width="594" height="1" fill="#000"/>
<rect x="82" y="347" width="594" height="1" fill="#000"/>
<rect x="82" y="45" width="1" height="303" fill="#000"/>
<rect x="675" y="45" width="1" height="303" fill="#000"/>
<rect x="690" y="45" width="30" height="303" fill="#000"/>
<rect x="691" y="309" width="28" height="38" fill="#8000ff"/>
<rect x="691" y="272" width="28" height="37" fill="#376ff9"/>
<rect x="691" y="234" width="28" height="38" fill="#12c7e6"/>
<rect x="691" y="196" width="28" height="38" fill="#5bf9c7"/>
<rect x="691" y="158" width="28" height="38" fill="#a4f99f"/>
<rect x="691" y="120" width="28" height="38" fill="#edc76f"/>
<rect x="691" y="83" width="28" height="37" fill="#ff6f39"/>
<rect x="691" y="46" width="28" height="37" fill="#ff0000"/>
<rect x="691" y="309" width="4" height="1" fill="#000"/>
<rect x="715" y="309" width="4" height="1" fill="#000"/>
<rect x="691" y="272" width="4" height="1" fill="#000"/>
<rect x="715" y="272" width="4" height="1" fill="#000"/>
<rect x="691" y="234" width="4" height="1" fill="#000"/>
<rect x="715" y="234" width="4" height="1" fill="#000"/>
<rect x="691" y="196" width="4" height="1" fill="#000"/>
<rect x="715" y="196" width="4" height="1" fill="#000"/>
<rect x="691" y="158" width="4" height="1" fill="#000"/>
<rect x="715" y="158" width="4" height="1" fill="#000"/>
<rect x="691" y="120" width="4" height="1" fill="#000"/>
<rect x="715" y="120" width="4" height="1" fill="#000"/>
<rect x="691" y="83" width="4" height="1" fill="#000"/>
<rect x="715" y="83" width="4" height="1" fill="#000"/>
<g shape-rendering="auto" text-rendering="geometricPrecision">
<text transform="translate(377.90 27.00) scale(1 1.055)" text-anchor="middle">2026-01-15</text>
<text transform="translate(73.20 344.23) scale(1 1.055)" text-anchor="end">100</text>
<text transform="translate(73.20 311.41) scale(1 1.055)" text-anchor="end">200</text>
<text transform="translate(73.20 278.58) scale(1 1.055)" text-anchor="end">300</text>
<text transform="translate(73.20 245.76) scale(1 1.055)" text-anchor="end">400</text>
<text transform="translate(73.20 212.93) scale(1 1.055)" text-anchor="end">500</text>
<text transform="translate(73.20 180.10) scale(1 1.055)" text-anchor="end">600</text>
<text transform="translate(73.20 147.28) scale(1 1.055)" text-anchor="end">700</text>
<text transform="translate(73.20 114.45) scale(1 1.055)" text-anchor="end">800</text>
<text transform="translate(73.20 81.63) scale(1 1.055)" text-anchor="end">900</text>
<text transform="translate(73.20 48.80) scale(1 1.055)" text-anchor="end">1000</text>
<text transform="translate(81.30 369.80) scale(1 1.055)" text-anchor="middle">00</text>
<text transform="translate(130.72 369.80) scale(1 1.055)" text-anchor="middle">02</text>
<text transform="translate(180.13 369.80) scale(1 1.055)" text-anchor="middle">04</text>
<text transform="translate(229.55 369.80) scale(1 1.055)" text-anchor="middle">06</text>
<text transform="translate(278.97 369.80) scale(1 1.055)" text-anchor="middle">08</text>
<text transform="translate(328.38 369.80) scale(1 1.055)" text-anchor="middle">10</text>
<text transform="translate(377.80 369.80) scale(1 1.055)" text-anchor="middle">12</text>
<text transform="translate(427.22 369.80) scale(1 1.055)" text-anchor="middle">14</text>
<text transform="translate(476.63 369.80) scale(1 1.055)" text-anchor="middle">16</text>
<text transform="translate(526.05 369.80) scale(1 1.055)" text-anchor="middle">18</text>
<text transform="translate(575.47 369.80) scale(1 1.055)" text-anchor="middle">20</text>
<text transform="translate(624.88 369.80) scale(1 1.055)" text-anchor="middle">22</text>
<text transform="translate(674.30 369.80) scale(1 1.055)" text-anchor="middle">00</text>
<text transform="translate(378.00 391.80) scale(1 1.055)" text-anchor="middle">UT Time / hrs</text>
<text transform="translate(17.40 196.20) rotate(-90) scale(1 1.055)" text-anchor="middle">km</text>
<text transform="translate(732.00 350.60) scale(1 1.055)" text-anchor="start">6</text>
<text transform="translate(732.00 312.85) scale(1 1.055)" text-anchor="start">9</text>
<text transform="translate(732.00 275.10) scale(1 1.055)" text-anchor="start">12</text>
<text transform="translate(732.00 237.35) scale(1 1.055)" text-anchor="start">15</text>
<text transform="translate(732.00 199.60) scale(1 1.055)" text-anchor="start">18</text>
<text transform="translate(732.00 161.85) scale(1 1.055)" text-anchor="start">21</text>
<text transform="translate(732.00 124.10) scale(1 1.055)" text-anchor="start">24</text>
<text transform="translate(732.00 86.35) scale(1 1.055)" text-anchor="start">27</text>
<text transform="translate(732.00 48.60) scale(1 1.055)" text-anchor="start">30</text>
<text transform="translate(762.30 195.50) rotate(-90) scale(1 1.055)" text-anchor="middle">SNR / dB</text>
</g>
</svg>
</body></html>
